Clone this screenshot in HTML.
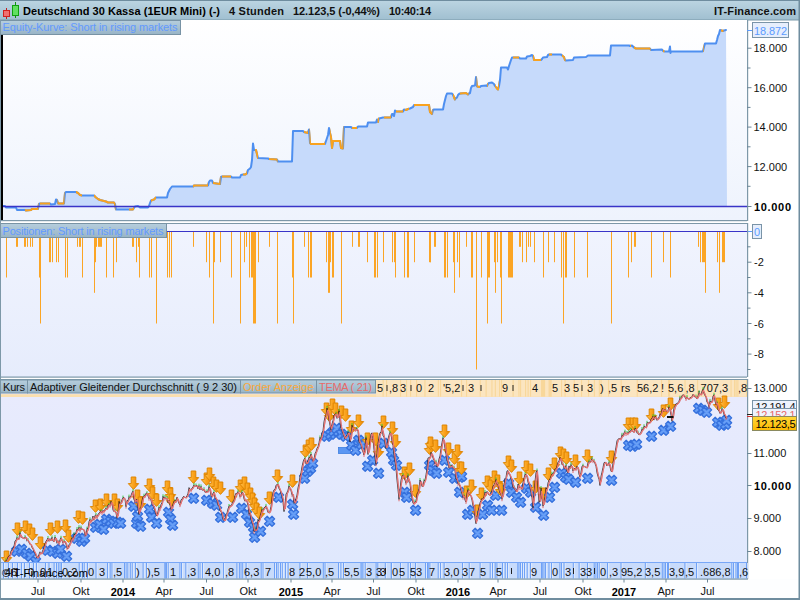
<!DOCTYPE html><html><head><meta charset="utf-8"><title>chart</title><style>html,body{margin:0;padding:0;background:#fff;overflow:hidden}svg{display:block}text{font-family:"Liberation Sans",sans-serif;font-size:11px}</style></head><body>
<svg width="800" height="600" viewBox="0 0 800 600">
<defs>
<linearGradient id="gT" x1="0" y1="0" x2="0" y2="1"><stop offset="0" stop-color="#bcd5e2"/><stop offset="1" stop-color="#a0bfd0"/></linearGradient>
<linearGradient id="gL" x1="0" y1="0" x2="0" y2="1"><stop offset="0" stop-color="#b6cedd"/><stop offset="1" stop-color="#98b4c6"/></linearGradient>
<linearGradient id="gP1" x1="0" y1="0" x2="0" y2="1"><stop offset="0" stop-color="#ffffff"/><stop offset="1" stop-color="#eef3fd"/></linearGradient>
<linearGradient id="gP2" x1="0" y1="0" x2="0" y2="1"><stop offset="0" stop-color="#f1f4fe"/><stop offset="1" stop-color="#e6ecfc"/></linearGradient>
<linearGradient id="gP3" x1="0" y1="0" x2="0" y2="1"><stop offset="0" stop-color="#e9ebfd"/><stop offset="1" stop-color="#dfe8fd"/></linearGradient>
<linearGradient id="gA" x1="0" y1="0" x2="1" y2="0"><stop offset="0" stop-color="#ffc95a"/><stop offset="0.45" stop-color="#fba520"/><stop offset="1" stop-color="#f08a00"/></linearGradient>
<linearGradient id="gY" x1="0" y1="0" x2="0" y2="1"><stop offset="0" stop-color="#ffd83a"/><stop offset="1" stop-color="#fdb800"/></linearGradient>
<g id="ar"><path d="M-2.3,0H2.3V6.6H5.2L0,12.4L-5.2,6.6H-2.3Z" fill="url(#gA)" stroke="#de8400" stroke-width="1" stroke-linejoin="round"/></g>
<g id="xm"><path transform="rotate(45)" d="M-1.9,-5.3H1.9V-1.9H5.3V1.9H1.9V5.3H-1.9V1.9H-5.3V-1.9H-1.9Z" fill="#548ff0" stroke="#3570dc" stroke-width="1.2" stroke-linejoin="round"/><path d="M-2.6,-2.6L2.6,2.6M-2.6,2.6L2.6,-2.6" stroke="#6ea4f8" stroke-width="1.6" stroke-linecap="round" opacity="0.8"/></g>
</defs>
<rect x="0" y="0" width="800" height="600" fill="#ffffff"/>
<rect x="0" y="0" width="800" height="20" fill="url(#gT)"/>
<rect x="0" y="0" width="800" height="1" fill="#6f8d9f"/>
<rect x="0" y="19.5" width="800" height="1" fill="#7b99aa"/>
<line x1="6.5" y1="8" x2="6.5" y2="19" stroke="#c02020" stroke-width="1"/><rect x="3.5" y="10.5" width="6" height="6" fill="#f07070" stroke="#d02020" stroke-width="1"/>
<line x1="15.5" y1="2" x2="15.5" y2="18" stroke="#109010" stroke-width="1"/><rect x="12.5" y="5.5" width="6" height="10" fill="#60e060" stroke="#10a010" stroke-width="1"/>
<text x="23" y="14.6" font-weight="bold" fill="#000" textLength="197">Deutschland 30 Kassa (1EUR Mini) (-)</text>
<text x="229" y="14.6" font-weight="bold" fill="#111" textLength="55">4 Stunden</text>
<text x="293" y="14.6" font-weight="bold" fill="#111" textLength="87">12.123,5 (-0,44%)</text>
<text x="389" y="14.6" font-weight="bold" fill="#111" textLength="42">10:40:14</text>
<text x="714" y="14.6" font-weight="bold" fill="#111" textLength="82">IT-Finance.com</text>
<rect x="0" y="20" width="747" height="200" fill="url(#gP1)"/>
<polygon points="3,206 3,206 5,206 6,207.5 16,207.5 17,210 25,210 26,210.5 31,210 32,209 38,209 39,204 40,203.5 50,203.5 51,204.5 55,204 56,199.5 57,200 58,203.5 64,203.5 65,193 66,192 76,192 78,193 80,195 82,195.5 94,195.5 96,197.5 98,199 100,200 106,201.5 108,202.5 114,202.5 115,204 116,209.5 133,209.5 134,208 135,206.5 138,206 140,207.5 148,207.5 149,206 150,203 151,200.5 154,199.5 156,197.5 167,197.5 168,193 170,189 172,186.5 193,186.5 194,185.5 208,185.5 209,182 210,180.5 212,180.5 213,183 220,184 221,177 222,176.5 231,176.5 232,177.5 240,177.5 241,175 243,174.5 245,174.5 247,173.5 248,170 250,168.5 251,167 252,160 253,143.5 254,150 256,150 257,154 258,158 268,158.5 269,159 277,159.5 278,161.5 292,161.5 293,131 303,131 304,132 308,133 309,129.5 310,143 311,144 325,144 326,141 328,135 329,128 330,133 331,137 332,148 333,141 340,141 341,148 343,148.5 344,127 351,127 352,128 357,128 358,126.5 367,126.5 368,122.5 376,122.5 377,119.5 378,122 379,118.5 383,117.5 391,117.5 392,114 393,114 394,116 395,110.5 396,111.5 403,111.5 404,109.5 406,110 408,109 410,108.5 413,107 414,105 429,105 430,112 432,114 433,110 434,109.5 443,109.5 444,104 445,100 446,96 447,93.5 452,93.5 453,95 455,99.5 456,98 457,97.5 458,95 459,94 460,93.5 466,93 468,94.5 469,93.5 470,93 471,88 472,86 475,85.5 476,77 477,86.5 480,87 481,86 486,85.5 487,86 488,84 489,83 492,82.5 494,84 495,86 497,88.5 498,89.5 499,86 500,80 501,67.5 507,67.5 508,69.5 509,66 510,63 511,60 512,57.5 519,57.5 520,58.5 526,58.5 527,56.5 530,56 532,55 533,56 534,60 541,60 542,59 543,57.5 547,57 548,55 549,54.5 561,54.5 562,55.5 564,57 565,60 566,60.5 573,60 574,57.5 586,57 588,55.5 610,55.5 611,45.5 629,45.5 630,46 632,45.5 634,47.5 636,48.5 650,48.5 651,50 662,49.5 663,51 665,51.5 669,51.5 670,46.5 670.5,53 671,51.5 702,51.5 703,51 704,47 705,43.5 716,43.5 717,40 718,36 719,34 720,30 723,31 724,30.5 726,30 727,206" fill="#c6dafb"/>
<polyline points="3,206 5,206 6,207.5 16,207.5 17,210 25,210 26,210.5 31,210 32,209 38,209 39,204 40,203.5 50,203.5 51,204.5 55,204 56,199.5 57,200 58,203.5 64,203.5 65,193 66,192 76,192 78,193 80,195 82,195.5 94,195.5 96,197.5 98,199 100,200 106,201.5 108,202.5 114,202.5 115,204 116,209.5 133,209.5 134,208 135,206.5 138,206 140,207.5 148,207.5 149,206 150,203 151,200.5 154,199.5 156,197.5 167,197.5 168,193 170,189 172,186.5 193,186.5 194,185.5 208,185.5 209,182 210,180.5 212,180.5 213,183 220,184 221,177 222,176.5 231,176.5 232,177.5 240,177.5 241,175 243,174.5 245,174.5 247,173.5 248,170 250,168.5 251,167 252,160 253,143.5 254,150 256,150 257,154 258,158 268,158.5 269,159 277,159.5 278,161.5 292,161.5 293,131 303,131 304,132 308,133 309,129.5 310,143 311,144 325,144 326,141 328,135 329,128 330,133 331,137 332,148 333,141 340,141 341,148 343,148.5 344,127 351,127 352,128 357,128 358,126.5 367,126.5 368,122.5 376,122.5 377,119.5 378,122 379,118.5 383,117.5 391,117.5 392,114 393,114 394,116 395,110.5 396,111.5 403,111.5 404,109.5 406,110 408,109 410,108.5 413,107 414,105 429,105 430,112 432,114 433,110 434,109.5 443,109.5 444,104 445,100 446,96 447,93.5 452,93.5 453,95 455,99.5 456,98 457,97.5 458,95 459,94 460,93.5 466,93 468,94.5 469,93.5 470,93 471,88 472,86 475,85.5 476,77 477,86.5 480,87 481,86 486,85.5 487,86 488,84 489,83 492,82.5 494,84 495,86 497,88.5 498,89.5 499,86 500,80 501,67.5 507,67.5 508,69.5 509,66 510,63 511,60 512,57.5 519,57.5 520,58.5 526,58.5 527,56.5 530,56 532,55 533,56 534,60 541,60 542,59 543,57.5 547,57 548,55 549,54.5 561,54.5 562,55.5 564,57 565,60 566,60.5 573,60 574,57.5 586,57 588,55.5 610,55.5 611,45.5 629,45.5 630,46 632,45.5 634,47.5 636,48.5 650,48.5 651,50 662,49.5 663,51 665,51.5 669,51.5 670,46.5 670.5,53 671,51.5 702,51.5 703,51 704,47 705,43.5 716,43.5 717,40 718,36 719,34 720,30 723,31 724,30.5 726,30" fill="none" stroke="#4e8ff0" stroke-width="2" stroke-linejoin="round" stroke-linecap="round"/>
<clipPath id="co"><rect x="25" y="20" width="13.5" height="200"/><rect x="40" y="20" width="10" height="200"/><rect x="57.5" y="20" width="7.0" height="200"/><rect x="76" y="20" width="6" height="200"/><rect x="94" y="20" width="21.5" height="200"/><rect x="129" y="20" width="5" height="200"/><rect x="151" y="20" width="5" height="200"/><rect x="193" y="20" width="15" height="200"/><rect x="213" y="20" width="7.5" height="200"/><rect x="222" y="20" width="9" height="200"/><rect x="243" y="20" width="4" height="200"/><rect x="255" y="20" width="3" height="200"/><rect x="269" y="20" width="8.5" height="200"/><rect x="304" y="20" width="4" height="200"/><rect x="309.5" y="20" width="15.5" height="200"/><rect x="330" y="20" width="13.5" height="200"/><rect x="352" y="20" width="5" height="200"/><rect x="377.5" y="20" width="1.5" height="200"/><rect x="384" y="20" width="7" height="200"/><rect x="396" y="20" width="7" height="200"/><rect x="405" y="20" width="4" height="200"/><rect x="414" y="20" width="18.5" height="200"/><rect x="453" y="20" width="2.5" height="200"/><rect x="460" y="20" width="8.5" height="200"/><rect x="476.6" y="20" width="3.3999999999999773" height="200"/><rect x="487" y="20" width="0.8000000000000114" height="200"/><rect x="495" y="20" width="4" height="200"/><rect x="513" y="20" width="6" height="200"/><rect x="533" y="20" width="8" height="200"/><rect x="549" y="20" width="3" height="200"/><rect x="562" y="20" width="3.5" height="200"/><rect x="630" y="20" width="1" height="200"/><rect x="634" y="20" width="16.5" height="200"/><rect x="663" y="20" width="1.5" height="200"/><rect x="703" y="20" width="0.7000000000000455" height="200"/><rect x="721" y="20" width="2.5" height="200"/></clipPath>
<polyline points="3,206 5,206 6,207.5 16,207.5 17,210 25,210 26,210.5 31,210 32,209 38,209 39,204 40,203.5 50,203.5 51,204.5 55,204 56,199.5 57,200 58,203.5 64,203.5 65,193 66,192 76,192 78,193 80,195 82,195.5 94,195.5 96,197.5 98,199 100,200 106,201.5 108,202.5 114,202.5 115,204 116,209.5 133,209.5 134,208 135,206.5 138,206 140,207.5 148,207.5 149,206 150,203 151,200.5 154,199.5 156,197.5 167,197.5 168,193 170,189 172,186.5 193,186.5 194,185.5 208,185.5 209,182 210,180.5 212,180.5 213,183 220,184 221,177 222,176.5 231,176.5 232,177.5 240,177.5 241,175 243,174.5 245,174.5 247,173.5 248,170 250,168.5 251,167 252,160 253,143.5 254,150 256,150 257,154 258,158 268,158.5 269,159 277,159.5 278,161.5 292,161.5 293,131 303,131 304,132 308,133 309,129.5 310,143 311,144 325,144 326,141 328,135 329,128 330,133 331,137 332,148 333,141 340,141 341,148 343,148.5 344,127 351,127 352,128 357,128 358,126.5 367,126.5 368,122.5 376,122.5 377,119.5 378,122 379,118.5 383,117.5 391,117.5 392,114 393,114 394,116 395,110.5 396,111.5 403,111.5 404,109.5 406,110 408,109 410,108.5 413,107 414,105 429,105 430,112 432,114 433,110 434,109.5 443,109.5 444,104 445,100 446,96 447,93.5 452,93.5 453,95 455,99.5 456,98 457,97.5 458,95 459,94 460,93.5 466,93 468,94.5 469,93.5 470,93 471,88 472,86 475,85.5 476,77 477,86.5 480,87 481,86 486,85.5 487,86 488,84 489,83 492,82.5 494,84 495,86 497,88.5 498,89.5 499,86 500,80 501,67.5 507,67.5 508,69.5 509,66 510,63 511,60 512,57.5 519,57.5 520,58.5 526,58.5 527,56.5 530,56 532,55 533,56 534,60 541,60 542,59 543,57.5 547,57 548,55 549,54.5 561,54.5 562,55.5 564,57 565,60 566,60.5 573,60 574,57.5 586,57 588,55.5 610,55.5 611,45.5 629,45.5 630,46 632,45.5 634,47.5 636,48.5 650,48.5 651,50 662,49.5 663,51 665,51.5 669,51.5 670,46.5 670.5,53 671,51.5 702,51.5 703,51 704,47 705,43.5 716,43.5 717,40 718,36 719,34 720,30 723,31 724,30.5 726,30" fill="none" stroke="#f9a21e" stroke-width="2" stroke-linejoin="round" stroke-linecap="round" clip-path="url(#co)"/>
<line x1="0" y1="206.5" x2="747" y2="206.5" stroke="#3a34c8" stroke-width="1.3"/>
<rect x="1" y="34" width="2" height="186" fill="#000"/>
<rect x="0.5" y="20.5" width="180" height="14" fill="url(#gL)" stroke="#7893a5" stroke-width="1"/>
<text x="2.5" y="31" fill="#6299ff" textLength="175">Equity-Kurve: Short in rising markets</text>
<rect x="0" y="220" width="747" height="1.2" fill="#7d98a8"/>
<rect x="747" y="20" width="1.2" height="201" fill="#7d98a8"/>
<line x1="747" y1="186.3" x2="750.5" y2="186.3" stroke="#6d8797" stroke-width="1"/>
<line x1="747" y1="166.6" x2="751.5" y2="166.6" stroke="#6d8797" stroke-width="1"/>
<line x1="747" y1="146.8" x2="750.5" y2="146.8" stroke="#6d8797" stroke-width="1"/>
<line x1="747" y1="127.1" x2="751.5" y2="127.1" stroke="#6d8797" stroke-width="1"/>
<line x1="747" y1="107.4" x2="750.5" y2="107.4" stroke="#6d8797" stroke-width="1"/>
<line x1="747" y1="87.7" x2="751.5" y2="87.7" stroke="#6d8797" stroke-width="1"/>
<line x1="747" y1="68.0" x2="750.5" y2="68.0" stroke="#6d8797" stroke-width="1"/>
<line x1="747" y1="48.2" x2="751.5" y2="48.2" stroke="#6d8797" stroke-width="1"/>
<text x="753.5" y="170.6" fill="#111">12.000</text>
<text x="753.5" y="131.1" fill="#111">14.000</text>
<text x="753.5" y="91.7" fill="#111">16.000</text>
<text x="753.5" y="52.2" fill="#111">18.000</text>
<text x="754" y="210.5" fill="#000" font-weight="bold" font-size="12px" textLength="37">10.000</text>
<line x1="747" y1="206.5" x2="751.5" y2="206.5" stroke="#6d8797" stroke-width="1"/>
<line x1="747" y1="30.5" x2="752" y2="30.5" stroke="#5b9bff" stroke-width="1"/>
<rect x="752.5" y="22.5" width="36" height="15" fill="#e6eefc" stroke="#7a94a8" stroke-width="1"/>
<text x="754" y="34.5" fill="#5b9bff" textLength="33">18.872</text>
<rect x="0" y="223" width="747" height="154" fill="url(#gP2)"/>
<rect x="0" y="223" width="747" height="1" fill="#7d98a8"/>
<rect x="0" y="376.5" width="747" height="1.2" fill="#7d98a8"/>
<rect x="6" y="231.5" width="1" height="46.0" fill="#fba525"/>
<rect x="16" y="231.5" width="2" height="15.3" fill="#fba525"/>
<rect x="24" y="231.5" width="2" height="15.3" fill="#fba525"/>
<rect x="27" y="231.5" width="1" height="15.3" fill="#fba525"/>
<rect x="30" y="231.5" width="1" height="15.3" fill="#fba525"/>
<rect x="32" y="231.5" width="1" height="15.3" fill="#fba525"/>
<rect x="39" y="231.5" width="1" height="46.0" fill="#fba525"/>
<rect x="40" y="231.5" width="1" height="92.0" fill="#fba525"/>
<rect x="49" y="231.5" width="2" height="30.7" fill="#fba525"/>
<rect x="52" y="231.5" width="1" height="30.7" fill="#fba525"/>
<rect x="56" y="231.5" width="1" height="30.7" fill="#fba525"/>
<rect x="58" y="231.5" width="1" height="30.7" fill="#fba525"/>
<rect x="65" y="231.5" width="1" height="46.0" fill="#fba525"/>
<rect x="67" y="231.5" width="1" height="46.0" fill="#fba525"/>
<rect x="77" y="231.5" width="1" height="15.3" fill="#fba525"/>
<rect x="79" y="231.5" width="2" height="15.3" fill="#fba525"/>
<rect x="82" y="231.5" width="1" height="46.0" fill="#fba525"/>
<rect x="94" y="231.5" width="1" height="61.3" fill="#fba525"/>
<rect x="95" y="231.5" width="1" height="30.7" fill="#fba525"/>
<rect x="96" y="231.5" width="1" height="15.3" fill="#fba525"/>
<rect x="98" y="231.5" width="4" height="15.3" fill="#fba525"/>
<rect x="106" y="231.5" width="1" height="46.0" fill="#fba525"/>
<rect x="113" y="231.5" width="1" height="46.0" fill="#fba525"/>
<rect x="116" y="231.5" width="1" height="30.7" fill="#fba525"/>
<rect x="132" y="231.5" width="2" height="15.3" fill="#fba525"/>
<rect x="136" y="231.5" width="1" height="30.7" fill="#fba525"/>
<rect x="138" y="231.5" width="1" height="15.3" fill="#fba525"/>
<rect x="139" y="231.5" width="1" height="46.0" fill="#fba525"/>
<rect x="149" y="231.5" width="1" height="46.0" fill="#fba525"/>
<rect x="151" y="231.5" width="1" height="46.0" fill="#fba525"/>
<rect x="156" y="231.5" width="1" height="92.0" fill="#fba525"/>
<rect x="167" y="231.5" width="1" height="46.0" fill="#fba525"/>
<rect x="169" y="231.5" width="1" height="46.0" fill="#fba525"/>
<rect x="171" y="231.5" width="1" height="46.0" fill="#fba525"/>
<rect x="193" y="231.5" width="1" height="15.3" fill="#fba525"/>
<rect x="206" y="231.5" width="1" height="30.7" fill="#fba525"/>
<rect x="209" y="231.5" width="1" height="46.0" fill="#fba525"/>
<rect x="213" y="231.5" width="1" height="92.0" fill="#fba525"/>
<rect x="214" y="231.5" width="1" height="30.7" fill="#fba525"/>
<rect x="220" y="231.5" width="1" height="30.7" fill="#fba525"/>
<rect x="231" y="231.5" width="1" height="46.0" fill="#fba525"/>
<rect x="240" y="231.5" width="1" height="92.0" fill="#fba525"/>
<rect x="244" y="231.5" width="1" height="30.7" fill="#fba525"/>
<rect x="246" y="231.5" width="1" height="15.3" fill="#fba525"/>
<rect x="249" y="231.5" width="1" height="46.0" fill="#fba525"/>
<rect x="251" y="231.5" width="2" height="46.0" fill="#fba525"/>
<rect x="253" y="231.5" width="3" height="92.0" fill="#fba525"/>
<rect x="258" y="231.5" width="1" height="30.7" fill="#fba525"/>
<rect x="269" y="231.5" width="1" height="15.3" fill="#fba525"/>
<rect x="277" y="231.5" width="1" height="92.0" fill="#fba525"/>
<rect x="292" y="231.5" width="1" height="46.0" fill="#fba525"/>
<rect x="293" y="231.5" width="1" height="92.0" fill="#fba525"/>
<rect x="304" y="231.5" width="1" height="15.3" fill="#fba525"/>
<rect x="308" y="231.5" width="1" height="46.0" fill="#fba525"/>
<rect x="310" y="231.5" width="2" height="46.0" fill="#fba525"/>
<rect x="326" y="231.5" width="1" height="30.7" fill="#fba525"/>
<rect x="328" y="231.5" width="2" height="61.3" fill="#fba525"/>
<rect x="330" y="231.5" width="1" height="30.7" fill="#fba525"/>
<rect x="332" y="231.5" width="2" height="46.0" fill="#fba525"/>
<rect x="341" y="231.5" width="1" height="92.0" fill="#fba525"/>
<rect x="352" y="231.5" width="1" height="15.3" fill="#fba525"/>
<rect x="358" y="231.5" width="2" height="15.3" fill="#fba525"/>
<rect x="367" y="231.5" width="1" height="30.7" fill="#fba525"/>
<rect x="374" y="231.5" width="2" height="46.0" fill="#fba525"/>
<rect x="377" y="231.5" width="1" height="46.0" fill="#fba525"/>
<rect x="383" y="231.5" width="1" height="30.7" fill="#fba525"/>
<rect x="392" y="231.5" width="1" height="30.7" fill="#fba525"/>
<rect x="394" y="231.5" width="1" height="30.7" fill="#fba525"/>
<rect x="395" y="231.5" width="1" height="46.0" fill="#fba525"/>
<rect x="404" y="231.5" width="1" height="46.0" fill="#fba525"/>
<rect x="407" y="231.5" width="2" height="46.0" fill="#fba525"/>
<rect x="414" y="231.5" width="1" height="30.7" fill="#fba525"/>
<rect x="429" y="231.5" width="2" height="30.7" fill="#fba525"/>
<rect x="434" y="231.5" width="2" height="15.3" fill="#fba525"/>
<rect x="430" y="231.5" width="1" height="30.7" fill="#fba525"/>
<rect x="444" y="231.5" width="2" height="46.0" fill="#fba525"/>
<rect x="447" y="231.5" width="1" height="46.0" fill="#fba525"/>
<rect x="453" y="231.5" width="1" height="30.7" fill="#fba525"/>
<rect x="454" y="231.5" width="1" height="61.3" fill="#fba525"/>
<rect x="457" y="231.5" width="1" height="30.7" fill="#fba525"/>
<rect x="459" y="231.5" width="1" height="46.0" fill="#fba525"/>
<rect x="466" y="231.5" width="1" height="15.3" fill="#fba525"/>
<rect x="471" y="231.5" width="2" height="46.0" fill="#fba525"/>
<rect x="476" y="231.5" width="1" height="138.0" fill="#fba525"/>
<rect x="481" y="231.5" width="1" height="46.0" fill="#fba525"/>
<rect x="487" y="231.5" width="1" height="92.0" fill="#fba525"/>
<rect x="488" y="231.5" width="2" height="46.0" fill="#fba525"/>
<rect x="494" y="231.5" width="1" height="30.7" fill="#fba525"/>
<rect x="495" y="231.5" width="1" height="61.3" fill="#fba525"/>
<rect x="497" y="231.5" width="1" height="30.7" fill="#fba525"/>
<rect x="500" y="231.5" width="1" height="46.0" fill="#fba525"/>
<rect x="501" y="231.5" width="1" height="92.0" fill="#fba525"/>
<rect x="508" y="231.5" width="5" height="46.0" fill="#fba525"/>
<rect x="519" y="231.5" width="2" height="15.3" fill="#fba525"/>
<rect x="522" y="231.5" width="1" height="30.7" fill="#fba525"/>
<rect x="526" y="231.5" width="1" height="30.7" fill="#fba525"/>
<rect x="528" y="231.5" width="1" height="15.3" fill="#fba525"/>
<rect x="530" y="231.5" width="1" height="15.3" fill="#fba525"/>
<rect x="534" y="231.5" width="1" height="30.7" fill="#fba525"/>
<rect x="543" y="231.5" width="1" height="46.0" fill="#fba525"/>
<rect x="548" y="231.5" width="1" height="30.7" fill="#fba525"/>
<rect x="554" y="231.5" width="1" height="30.7" fill="#fba525"/>
<rect x="561" y="231.5" width="1" height="46.0" fill="#fba525"/>
<rect x="563" y="231.5" width="1" height="92.0" fill="#fba525"/>
<rect x="565" y="231.5" width="2" height="46.0" fill="#fba525"/>
<rect x="574" y="231.5" width="1" height="46.0" fill="#fba525"/>
<rect x="587" y="231.5" width="1" height="46.0" fill="#fba525"/>
<rect x="611" y="231.5" width="1" height="92.0" fill="#fba525"/>
<rect x="628" y="231.5" width="1" height="46.0" fill="#fba525"/>
<rect x="631" y="231.5" width="1" height="30.7" fill="#fba525"/>
<rect x="634" y="231.5" width="2" height="15.3" fill="#fba525"/>
<rect x="651" y="231.5" width="1" height="46.0" fill="#fba525"/>
<rect x="663" y="231.5" width="1" height="30.7" fill="#fba525"/>
<rect x="670" y="231.5" width="1" height="46.0" fill="#fba525"/>
<rect x="698" y="231.5" width="1" height="15.3" fill="#fba525"/>
<rect x="700" y="231.5" width="1" height="30.7" fill="#fba525"/>
<rect x="702" y="231.5" width="3" height="30.7" fill="#fba525"/>
<rect x="705" y="231.5" width="1" height="61.3" fill="#fba525"/>
<rect x="717" y="231.5" width="1" height="30.7" fill="#fba525"/>
<rect x="719" y="231.5" width="1" height="61.3" fill="#fba525"/>
<rect x="722" y="231.5" width="3" height="30.7" fill="#fba525"/>
<line x1="0" y1="231.5" x2="747" y2="231.5" stroke="#3a34c8" stroke-width="1.2"/>
<line x1="747" y1="231.5" x2="752" y2="231.5" stroke="#5b9bff" stroke-width="1"/>
<rect x="0.5" y="223.5" width="166" height="14" fill="url(#gL)" stroke="#7893a5" stroke-width="1"/>
<text x="2.5" y="235" fill="#6299ff" textLength="161">Positionen: Short in rising markets</text>
<rect x="747" y="223" width="1.2" height="154" fill="#7d98a8"/>
<line x1="747" y1="246.8" x2="750.5" y2="246.8" stroke="#6d8797" stroke-width="1"/>
<line x1="747" y1="262.2" x2="751.5" y2="262.2" stroke="#6d8797" stroke-width="1"/>
<line x1="747" y1="277.5" x2="750.5" y2="277.5" stroke="#6d8797" stroke-width="1"/>
<line x1="747" y1="292.8" x2="751.5" y2="292.8" stroke="#6d8797" stroke-width="1"/>
<line x1="747" y1="308.1" x2="750.5" y2="308.1" stroke="#6d8797" stroke-width="1"/>
<line x1="747" y1="323.5" x2="751.5" y2="323.5" stroke="#6d8797" stroke-width="1"/>
<line x1="747" y1="338.8" x2="750.5" y2="338.8" stroke="#6d8797" stroke-width="1"/>
<line x1="747" y1="354.1" x2="751.5" y2="354.1" stroke="#6d8797" stroke-width="1"/>
<line x1="747" y1="369.5" x2="750.5" y2="369.5" stroke="#6d8797" stroke-width="1"/>
<text x="754" y="266.2" fill="#111">-2</text>
<text x="754" y="296.8" fill="#111">-4</text>
<text x="754" y="327.5" fill="#111">-6</text>
<text x="754" y="358.1" fill="#111">-8</text>
<rect x="752.5" y="224.5" width="9" height="14" fill="#e6eefc" stroke="#7a94a8" stroke-width="1"/>
<text x="754" y="236" fill="#5b9bff">0</text>
<rect x="0" y="379" width="747" height="200" fill="url(#gP3)"/>
<rect x="0" y="379" width="747" height="1" fill="#7d98a8"/>
<rect x="747" y="379" width="1.2" height="200" fill="#7d98a8"/>
<rect x="0" y="394.2" width="747" height="2.8" fill="#fbdfae"/>
<rect x="376" y="380" width="371" height="16.6" fill="#fbe5c0"/>
<rect x="382.6" y="380" width="1.1" height="16.6" fill="#f7d391" opacity="0.8"/>
<rect x="386.0" y="380" width="1.1" height="16.6" fill="#f7d391" opacity="0.8"/>
<rect x="400.0" y="380" width="1.1" height="16.6" fill="#f7d391" opacity="0.8"/>
<rect x="406.0" y="380" width="1.1" height="16.6" fill="#f7d391" opacity="0.8"/>
<rect x="410.0" y="380" width="1.1" height="16.6" fill="#f7d391" opacity="0.8"/>
<rect x="416.0" y="380" width="1.1" height="16.6" fill="#f7d391" opacity="0.8"/>
<rect x="424.4" y="380" width="1.1" height="16.6" fill="#f7d391" opacity="0.8"/>
<rect x="437.8" y="380" width="1.1" height="16.6" fill="#f7d391" opacity="0.8"/>
<rect x="440.0" y="380" width="1.1" height="16.6" fill="#f7d391" opacity="0.8"/>
<rect x="461.0" y="380" width="1.1" height="16.6" fill="#f7d391" opacity="0.8"/>
<rect x="466.0" y="380" width="1.1" height="16.6" fill="#f7d391" opacity="0.8"/>
<rect x="479.7" y="380" width="1.1" height="16.6" fill="#f7d391" opacity="0.8"/>
<rect x="485.6" y="380" width="1.1" height="16.6" fill="#f7d391" opacity="0.8"/>
<rect x="491.4" y="380" width="1.1" height="16.6" fill="#f7d391" opacity="0.8"/>
<rect x="494.8" y="380" width="1.1" height="16.6" fill="#f7d391" opacity="0.8"/>
<rect x="499.0" y="380" width="1.1" height="16.6" fill="#f7d391" opacity="0.8"/>
<rect x="501.0" y="380" width="1.1" height="16.6" fill="#f7d391" opacity="0.8"/>
<rect x="512.6" y="380" width="1.1" height="16.6" fill="#f7d391" opacity="0.8"/>
<rect x="518.4" y="380" width="1.1" height="16.6" fill="#f7d391" opacity="0.8"/>
<rect x="520.0" y="380" width="1.1" height="16.6" fill="#f7d391" opacity="0.8"/>
<rect x="525.0" y="380" width="1.1" height="16.6" fill="#f7d391" opacity="0.8"/>
<rect x="527.6" y="380" width="1.1" height="16.6" fill="#f7d391" opacity="0.8"/>
<rect x="530.0" y="380" width="1.1" height="16.6" fill="#f7d391" opacity="0.8"/>
<rect x="541.0" y="380" width="1.1" height="16.6" fill="#f7d391" opacity="0.8"/>
<rect x="542.0" y="380" width="1.1" height="16.6" fill="#f7d391" opacity="0.8"/>
<rect x="543.0" y="380" width="1.1" height="16.6" fill="#f7d391" opacity="0.8"/>
<rect x="544.0" y="380" width="1.1" height="16.6" fill="#f7d391" opacity="0.8"/>
<rect x="548.6" y="380" width="1.1" height="16.6" fill="#f7d391" opacity="0.8"/>
<rect x="549.6" y="380" width="1.1" height="16.6" fill="#f7d391" opacity="0.8"/>
<rect x="550.6" y="380" width="1.1" height="16.6" fill="#f7d391" opacity="0.8"/>
<rect x="561.0" y="380" width="1.1" height="16.6" fill="#f7d391" opacity="0.8"/>
<rect x="564.5" y="380" width="1.1" height="16.6" fill="#f7d391" opacity="0.8"/>
<rect x="573.7" y="380" width="1.1" height="16.6" fill="#f7d391" opacity="0.8"/>
<rect x="581.0" y="380" width="1.1" height="16.6" fill="#f7d391" opacity="0.8"/>
<rect x="588.0" y="380" width="1.1" height="16.6" fill="#f7d391" opacity="0.8"/>
<rect x="593.8" y="380" width="1.1" height="16.6" fill="#f7d391" opacity="0.8"/>
<rect x="598.8" y="380" width="1.1" height="16.6" fill="#f7d391" opacity="0.8"/>
<rect x="600.5" y="380" width="1.1" height="16.6" fill="#f7d391" opacity="0.8"/>
<rect x="608.0" y="380" width="1.1" height="16.6" fill="#f7d391" opacity="0.8"/>
<rect x="620.6" y="380" width="1.1" height="16.6" fill="#f7d391" opacity="0.8"/>
<rect x="636.7" y="380" width="1.1" height="16.6" fill="#f7d391" opacity="0.8"/>
<rect x="661.0" y="380" width="1.1" height="16.6" fill="#f7d391" opacity="0.8"/>
<rect x="668.0" y="380" width="1.1" height="16.6" fill="#f7d391" opacity="0.8"/>
<rect x="669.0" y="380" width="1.1" height="16.6" fill="#f7d391" opacity="0.8"/>
<rect x="684.5" y="380" width="1.1" height="16.6" fill="#f7d391" opacity="0.8"/>
<rect x="697.0" y="380" width="1.1" height="16.6" fill="#f7d391" opacity="0.8"/>
<rect x="730.5" y="380" width="1.1" height="16.6" fill="#f7d391" opacity="0.8"/>
<rect x="734.0" y="380" width="1.1" height="16.6" fill="#f7d391" opacity="0.8"/>
<rect x="735.6" y="380" width="1.1" height="16.6" fill="#f7d391" opacity="0.8"/>
<rect x="737.3" y="380" width="1.1" height="16.6" fill="#f7d391" opacity="0.8"/>
<rect x="746.0" y="380" width="1.1" height="16.6" fill="#f7d391" opacity="0.8"/>
<text x="377" y="392" fill="#111">5</text>
<rect x="386.5" y="385" width="1" height="6" fill="#222"/>
<text x="389" y="392" fill="#111">,8</text>
<text x="400" y="392" fill="#111">3</text>
<rect x="410.5" y="385" width="1" height="6" fill="#222"/>
<text x="416" y="392" fill="#111">0</text>
<text x="428" y="392" fill="#111">2</text>
<text x="443" y="392" fill="#111">'5,2</text>
<rect x="462.5" y="385" width="1" height="6" fill="#222"/>
<text x="468" y="392" fill="#111">3</text>
<rect x="480.5" y="385" width="1" height="6" fill="#222"/>
<text x="502" y="392" fill="#111">9</text>
<rect x="512.5" y="385" width="1" height="6" fill="#222"/>
<text x="532" y="392" fill="#111">4</text>
<text x="552" y="392" fill="#111">5</text>
<text x="564" y="392" fill="#111">3</text>
<text x="573" y="392" fill="#111">5</text>
<rect x="581.5" y="385" width="1" height="6" fill="#222"/>
<text x="587" y="392" fill="#111">3</text>
<text x="600" y="392" fill="#111">)</text>
<text x="608" y="392" fill="#111">,5</text>
<text x="621" y="392" fill="#111">rs</text>
<text x="637" y="392" fill="#111">56,2</text>
<text x="661" y="392" fill="#111">!</text>
<text x="668" y="392" fill="#111">5,6</text>
<text x="685.5" y="392" fill="#111">,8</text>
<text x="697.5" y="392" fill="#111">.707,3</text>
<text x="738" y="392" fill="#111">,8</text>
<rect x="338.5" y="447.5" width="12" height="6" fill="#5b97f3" stroke="#3f7fe0" stroke-width="0.8"/>
<use href="#ar" x="6.5" y="551"/>
<use href="#xm" x="16.6" y="551.3"/>
<use href="#ar" x="17.5" y="523"/>
<use href="#xm" x="21.6" y="549.3"/>
<use href="#ar" x="25.5" y="521"/>
<use href="#xm" x="26.6" y="553.3"/>
<use href="#ar" x="29.5" y="524"/>
<use href="#xm" x="30.6" y="556.3"/>
<use href="#ar" x="32.5" y="528"/>
<use href="#xm" x="35.6" y="561.3"/>
<use href="#ar" x="40.5" y="537"/>
<use href="#xm" x="47.6" y="550.3"/>
<use href="#ar" x="50.5" y="523"/>
<use href="#xm" x="52.6" y="551.3"/>
<use href="#xm" x="57.6" y="553.3"/>
<use href="#ar" x="57.5" y="521"/>
<use href="#xm" x="60.6" y="549.3"/>
<use href="#ar" x="65.5" y="520"/>
<use href="#xm" x="66.6" y="556.3"/>
<use href="#ar" x="68.5" y="530"/>
<use href="#xm" x="76.6" y="538.3"/>
<use href="#ar" x="78.5" y="511"/>
<use href="#xm" x="81.6" y="541.3"/>
<use href="#ar" x="82.5" y="512"/>
<use href="#xm" x="84.6" y="538.3"/>
<use href="#xm" x="95.6" y="527.3"/>
<use href="#ar" x="95.5" y="500"/>
<use href="#xm" x="99.6" y="524.3"/>
<use href="#ar" x="100.5" y="499"/>
<use href="#xm" x="103.6" y="529.3"/>
<use href="#xm" x="106.6" y="519.3"/>
<use href="#ar" x="106.5" y="494"/>
<use href="#xm" x="110.6" y="521.3"/>
<use href="#xm" x="113.6" y="523.3"/>
<use href="#ar" x="114.5" y="494"/>
<use href="#xm" x="117.6" y="522.3"/>
<use href="#ar" x="117.5" y="499"/>
<use href="#xm" x="120.6" y="523.3"/>
<use href="#xm" x="133.6" y="506.3"/>
<use href="#ar" x="133.5" y="477"/>
<use href="#xm" x="136.6" y="523.3"/>
<use href="#xm" x="137.6" y="516.3"/>
<use href="#ar" x="137.5" y="490"/>
<use href="#xm" x="140.6" y="526.3"/>
<use href="#ar" x="140.5" y="497"/>
<use href="#xm" x="149.6" y="509.3"/>
<use href="#ar" x="149.5" y="479"/>
<use href="#xm" x="151.6" y="517.3"/>
<use href="#ar" x="152.5" y="487"/>
<use href="#xm" x="156.6" y="523.3"/>
<use href="#ar" x="156.5" y="494"/>
<use href="#ar" x="167.5" y="481"/>
<use href="#xm" x="168.6" y="512.3"/>
<use href="#xm" x="170.6" y="519.3"/>
<use href="#ar" x="170.5" y="488"/>
<use href="#ar" x="171.5" y="494"/>
<use href="#xm" x="172.6" y="525.3"/>
<use href="#xm" x="193.6" y="498.3"/>
<use href="#ar" x="193.5" y="471"/>
<use href="#xm" x="206.6" y="500.3"/>
<use href="#ar" x="206.5" y="473"/>
<use href="#ar" x="209.5" y="468"/>
<use href="#xm" x="212.6" y="503.3"/>
<use href="#ar" x="213.5" y="477"/>
<use href="#xm" x="216.6" y="505.3"/>
<use href="#ar" x="216.5" y="480"/>
<use href="#xm" x="220.6" y="517.3"/>
<use href="#ar" x="220.5" y="482"/>
<use href="#ar" x="231.5" y="490"/>
<use href="#xm" x="232.6" y="517.3"/>
<use href="#ar" x="240.5" y="480"/>
<use href="#xm" x="241.6" y="508.3"/>
<use href="#ar" x="244.5" y="477"/>
<use href="#xm" x="246.6" y="514.3"/>
<use href="#ar" x="247.5" y="483"/>
<use href="#xm" x="249.6" y="522.3"/>
<use href="#ar" x="250.5" y="488"/>
<use href="#ar" x="252.5" y="493"/>
<use href="#xm" x="253.6" y="527.3"/>
<use href="#xm" x="254.6" y="537.3"/>
<use href="#ar" x="254.5" y="498"/>
<use href="#ar" x="256.5" y="503"/>
<use href="#ar" x="259.5" y="507"/>
<use href="#xm" x="260.6" y="531.3"/>
<use href="#xm" x="269.6" y="521.3"/>
<use href="#ar" x="269.5" y="492"/>
<use href="#ar" x="277.5" y="470"/>
<use href="#xm" x="278.6" y="497.3"/>
<use href="#xm" x="292.6" y="504.3"/>
<use href="#ar" x="292.5" y="475"/>
<use href="#xm" x="293.6" y="514.3"/>
<use href="#xm" x="304.6" y="478.3"/>
<use href="#ar" x="305.5" y="445"/>
<use href="#xm" x="307.6" y="471.3"/>
<use href="#ar" x="308.5" y="440"/>
<use href="#xm" x="310.6" y="468.3"/>
<use href="#ar" x="311.5" y="438"/>
<use href="#xm" x="312.6" y="463.3"/>
<use href="#xm" x="326.6" y="436.3"/>
<use href="#ar" x="326.5" y="403"/>
<use href="#ar" x="329.5" y="409"/>
<use href="#xm" x="330.6" y="434.3"/>
<use href="#ar" x="332.5" y="399"/>
<use href="#xm" x="333.6" y="431.3"/>
<use href="#ar" x="335.5" y="403"/>
<use href="#xm" x="336.6" y="428.3"/>
<use href="#xm" x="341.6" y="434.3"/>
<use href="#ar" x="341.5" y="406"/>
<use href="#xm" x="345.6" y="436.3"/>
<use href="#ar" x="345.5" y="409"/>
<use href="#xm" x="351.6" y="445.3"/>
<use href="#ar" x="351.5" y="421"/>
<use href="#xm" x="355.6" y="450.3"/>
<use href="#xm" x="358.6" y="440.3"/>
<use href="#ar" x="358.5" y="415"/>
<use href="#xm" x="361.6" y="444.3"/>
<use href="#xm" x="367.6" y="466.3"/>
<use href="#ar" x="367.5" y="433"/>
<use href="#xm" x="372.6" y="460.3"/>
<use href="#ar" x="375.5" y="433"/>
<use href="#xm" x="378.6" y="473.3"/>
<use href="#ar" x="378.5" y="445"/>
<use href="#xm" x="383.6" y="443.3"/>
<use href="#ar" x="383.5" y="416"/>
<use href="#xm" x="391.6" y="452.3"/>
<use href="#ar" x="392.5" y="422"/>
<use href="#xm" x="393.6" y="460.3"/>
<use href="#ar" x="395.5" y="435"/>
<use href="#xm" x="396.6" y="465.3"/>
<use href="#xm" x="404.6" y="492.3"/>
<use href="#ar" x="404.5" y="467"/>
<use href="#xm" x="406.6" y="497.3"/>
<use href="#ar" x="409.5" y="463"/>
<use href="#xm" x="415.6" y="510.3"/>
<use href="#ar" x="415.5" y="485"/>
<use href="#xm" x="429.6" y="465.3"/>
<use href="#ar" x="429.5" y="442"/>
<use href="#ar" x="430.5" y="437"/>
<use href="#xm" x="432.6" y="470.3"/>
<use href="#ar" x="435.5" y="440"/>
<use href="#xm" x="436.6" y="473.3"/>
<use href="#xm" x="444.6" y="460.3"/>
<use href="#ar" x="444.5" y="425"/>
<use href="#xm" x="448.6" y="472.3"/>
<use href="#ar" x="448.5" y="443"/>
<use href="#xm" x="454.6" y="478.3"/>
<use href="#ar" x="454.5" y="452"/>
<use href="#ar" x="457.5" y="445"/>
<use href="#xm" x="459.6" y="477.3"/>
<use href="#xm" x="459.6" y="492.3"/>
<use href="#ar" x="459.5" y="462"/>
<use href="#xm" x="461.6" y="476.3"/>
<use href="#ar" x="461.5" y="462"/>
<use href="#ar" x="466.5" y="486"/>
<use href="#xm" x="467.6" y="514.3"/>
<use href="#ar" x="471.5" y="480"/>
<use href="#xm" x="472.6" y="510.3"/>
<use href="#xm" x="477.6" y="533.3"/>
<use href="#ar" x="477.5" y="505"/>
<use href="#ar" x="481.5" y="488"/>
<use href="#xm" x="482.6" y="514.3"/>
<use href="#xm" x="487.6" y="505.3"/>
<use href="#ar" x="487.5" y="476"/>
<use href="#ar" x="490.5" y="480"/>
<use href="#xm" x="491.6" y="510.3"/>
<use href="#ar" x="494.5" y="471"/>
<use href="#xm" x="495.6" y="495.3"/>
<use href="#ar" x="497.5" y="475"/>
<use href="#ar" x="500.5" y="483"/>
<use href="#xm" x="501.6" y="510.3"/>
<use href="#xm" x="508.6" y="483.3"/>
<use href="#ar" x="508.5" y="456"/>
<use href="#xm" x="511.6" y="492.3"/>
<use href="#ar" x="511.5" y="460"/>
<use href="#xm" x="516.6" y="497.3"/>
<use href="#ar" x="519.5" y="472"/>
<use href="#xm" x="520.6" y="502.3"/>
<use href="#xm" x="526.6" y="488.3"/>
<use href="#ar" x="526.5" y="461"/>
<use href="#xm" x="530.6" y="492.3"/>
<use href="#ar" x="530.5" y="464"/>
<use href="#xm" x="535.6" y="507.3"/>
<use href="#ar" x="535.5" y="481"/>
<use href="#xm" x="543.6" y="515.3"/>
<use href="#ar" x="543.5" y="488"/>
<use href="#ar" x="548.5" y="468"/>
<use href="#xm" x="549.6" y="497.3"/>
<use href="#xm" x="554.6" y="487.3"/>
<use href="#ar" x="554.5" y="458"/>
<use href="#ar" x="560.5" y="447"/>
<use href="#xm" x="561.6" y="473.3"/>
<use href="#ar" x="563.5" y="449"/>
<use href="#xm" x="565.6" y="477.3"/>
<use href="#ar" x="566.5" y="452"/>
<use href="#xm" x="568.6" y="479.3"/>
<use href="#xm" x="575.6" y="482.3"/>
<use href="#ar" x="575.5" y="455"/>
<use href="#xm" x="587.6" y="478.3"/>
<use href="#ar" x="587.5" y="450"/>
<use href="#xm" x="611.6" y="480.3"/>
<use href="#ar" x="611.5" y="451"/>
<use href="#xm" x="628.6" y="445.3"/>
<use href="#ar" x="628.5" y="418"/>
<use href="#xm" x="632.6" y="446.3"/>
<use href="#ar" x="632.5" y="418"/>
<use href="#ar" x="635.5" y="418"/>
<use href="#xm" x="636.6" y="444.3"/>
<use href="#xm" x="651.6" y="436.3"/>
<use href="#ar" x="651.5" y="409"/>
<use href="#xm" x="663.6" y="430.3"/>
<use href="#ar" x="663.5" y="405"/>
<use href="#xm" x="670.6" y="426.3"/>
<use href="#ar" x="670.5" y="398"/>
<use href="#xm" x="698.6" y="408.3"/>
<use href="#xm" x="702.6" y="410.3"/>
<use href="#xm" x="706.6" y="412.3"/>
<use href="#xm" x="717.6" y="422.3"/>
<use href="#ar" x="718.5" y="398"/>
<use href="#xm" x="721.6" y="425.3"/>
<use href="#ar" x="724.5" y="396"/>
<use href="#xm" x="725.6" y="424.3"/>
<use href="#xm" x="726.6" y="420.3"/>
<g><line x1="6.0" y1="558.3" x2="6.0" y2="560.6" stroke="#2ec82e" stroke-width="0.9"/><line x1="17.0" y1="535.5" x2="17.0" y2="537.8" stroke="#2ec82e" stroke-width="0.9"/><line x1="20.0" y1="530.8" x2="20.0" y2="533.1" stroke="#2ec82e" stroke-width="0.9"/><line x1="25.0" y1="535.1" x2="25.0" y2="537.4" stroke="#2ec82e" stroke-width="0.9"/><line x1="28.0" y1="538.2" x2="28.0" y2="540.5" stroke="#2ec82e" stroke-width="0.9"/><line x1="48.0" y1="536.0" x2="48.0" y2="538.3" stroke="#2ec82e" stroke-width="0.9"/><line x1="52.0" y1="535.4" x2="52.0" y2="537.7" stroke="#2ec82e" stroke-width="0.9"/><line x1="55.0" y1="535.0" x2="55.0" y2="537.3" stroke="#2ec82e" stroke-width="0.9"/><line x1="59.0" y1="543.0" x2="59.0" y2="545.3" stroke="#e05a5a" stroke-width="0.9"/><line x1="61.0" y1="535.8" x2="61.0" y2="538.1" stroke="#2ec82e" stroke-width="0.9"/><line x1="63.0" y1="542.5" x2="63.0" y2="544.8" stroke="#e05a5a" stroke-width="0.9"/><line x1="64.0" y1="539.2" x2="64.0" y2="541.5" stroke="#2ec82e" stroke-width="0.9"/><line x1="67.0" y1="548.0" x2="67.0" y2="550.3" stroke="#e05a5a" stroke-width="0.9"/><line x1="73.0" y1="539.4" x2="73.0" y2="541.7" stroke="#e05a5a" stroke-width="0.9"/><line x1="74.0" y1="532.4" x2="74.0" y2="534.7" stroke="#2ec82e" stroke-width="0.9"/><line x1="75.0" y1="534.4" x2="75.0" y2="536.7" stroke="#e05a5a" stroke-width="0.9"/><line x1="77.0" y1="527.1" x2="77.0" y2="529.4" stroke="#2ec82e" stroke-width="0.9"/><line x1="79.0" y1="525.2" x2="79.0" y2="527.5" stroke="#2ec82e" stroke-width="0.9"/><line x1="80.0" y1="530.0" x2="80.0" y2="532.3" stroke="#e05a5a" stroke-width="0.9"/><line x1="81.0" y1="525.6" x2="81.0" y2="527.9" stroke="#2ec82e" stroke-width="0.9"/><line x1="85.0" y1="534.6" x2="85.0" y2="536.9" stroke="#e05a5a" stroke-width="0.9"/><line x1="87.0" y1="526.7" x2="87.0" y2="529.0" stroke="#2ec82e" stroke-width="0.9"/><line x1="88.0" y1="528.4" x2="88.0" y2="530.7" stroke="#e05a5a" stroke-width="0.9"/><line x1="90.0" y1="517.4" x2="90.0" y2="519.7" stroke="#2ec82e" stroke-width="0.9"/><line x1="91.0" y1="521.1" x2="91.0" y2="523.4" stroke="#e05a5a" stroke-width="0.9"/><line x1="96.0" y1="513.0" x2="96.0" y2="515.3" stroke="#2ec82e" stroke-width="0.9"/><line x1="97.0" y1="517.0" x2="97.0" y2="519.3" stroke="#e05a5a" stroke-width="0.9"/><line x1="101.0" y1="508.9" x2="101.0" y2="511.2" stroke="#2ec82e" stroke-width="0.9"/><line x1="102.0" y1="512.6" x2="102.0" y2="514.9" stroke="#e05a5a" stroke-width="0.9"/><line x1="104.0" y1="511.1" x2="104.0" y2="513.4" stroke="#e05a5a" stroke-width="0.9"/><line x1="106.0" y1="506.1" x2="106.0" y2="508.4" stroke="#2ec82e" stroke-width="0.9"/><line x1="109.0" y1="502.8" x2="109.0" y2="505.1" stroke="#2ec82e" stroke-width="0.9"/><line x1="110.0" y1="505.4" x2="110.0" y2="507.7" stroke="#e05a5a" stroke-width="0.9"/><line x1="115.0" y1="508.9" x2="115.0" y2="511.2" stroke="#2ec82e" stroke-width="0.9"/><line x1="123.0" y1="495.6" x2="123.0" y2="497.9" stroke="#2ec82e" stroke-width="0.9"/><line x1="126.0" y1="506.3" x2="126.0" y2="508.6" stroke="#e05a5a" stroke-width="0.9"/><line x1="129.0" y1="494.6" x2="129.0" y2="496.9" stroke="#2ec82e" stroke-width="0.9"/><line x1="133.0" y1="489.2" x2="133.0" y2="491.5" stroke="#2ec82e" stroke-width="0.9"/><line x1="135.0" y1="501.3" x2="135.0" y2="503.6" stroke="#e05a5a" stroke-width="0.9"/><line x1="144.0" y1="493.7" x2="144.0" y2="496.0" stroke="#2ec82e" stroke-width="0.9"/><line x1="145.0" y1="495.7" x2="145.0" y2="498.0" stroke="#e05a5a" stroke-width="0.9"/><line x1="147.0" y1="491.2" x2="147.0" y2="493.5" stroke="#2ec82e" stroke-width="0.9"/><line x1="149.0" y1="498.4" x2="149.0" y2="500.7" stroke="#e05a5a" stroke-width="0.9"/><line x1="159.0" y1="505.3" x2="159.0" y2="507.6" stroke="#2ec82e" stroke-width="0.9"/><line x1="160.0" y1="508.7" x2="160.0" y2="511.0" stroke="#e05a5a" stroke-width="0.9"/><line x1="163.0" y1="494.3" x2="163.0" y2="496.6" stroke="#2ec82e" stroke-width="0.9"/><line x1="164.0" y1="498.5" x2="164.0" y2="500.8" stroke="#e05a5a" stroke-width="0.9"/><line x1="165.0" y1="494.9" x2="165.0" y2="497.2" stroke="#2ec82e" stroke-width="0.9"/><line x1="167.0" y1="496.0" x2="167.0" y2="498.3" stroke="#2ec82e" stroke-width="0.9"/><line x1="171.0" y1="509.0" x2="171.0" y2="511.3" stroke="#e05a5a" stroke-width="0.9"/><line x1="175.0" y1="499.0" x2="175.0" y2="501.3" stroke="#2ec82e" stroke-width="0.9"/><line x1="176.0" y1="500.7" x2="176.0" y2="503.0" stroke="#e05a5a" stroke-width="0.9"/><line x1="180.0" y1="504.8" x2="180.0" y2="507.1" stroke="#e05a5a" stroke-width="0.9"/><line x1="191.0" y1="489.8" x2="191.0" y2="492.1" stroke="#e05a5a" stroke-width="0.9"/><line x1="194.0" y1="482.9" x2="194.0" y2="485.2" stroke="#2ec82e" stroke-width="0.9"/><line x1="196.0" y1="483.5" x2="196.0" y2="485.8" stroke="#2ec82e" stroke-width="0.9"/><line x1="199.0" y1="483.7" x2="199.0" y2="486.0" stroke="#2ec82e" stroke-width="0.9"/><line x1="201.0" y1="484.4" x2="201.0" y2="486.7" stroke="#2ec82e" stroke-width="0.9"/><line x1="204.0" y1="487.2" x2="204.0" y2="489.5" stroke="#2ec82e" stroke-width="0.9"/><line x1="207.0" y1="489.3" x2="207.0" y2="491.6" stroke="#2ec82e" stroke-width="0.9"/><line x1="209.0" y1="484.6" x2="209.0" y2="486.9" stroke="#2ec82e" stroke-width="0.9"/><line x1="214.0" y1="490.1" x2="214.0" y2="492.4" stroke="#2ec82e" stroke-width="0.9"/><line x1="229.0" y1="504.0" x2="229.0" y2="506.3" stroke="#2ec82e" stroke-width="0.9"/><line x1="230.0" y1="505.7" x2="230.0" y2="508.0" stroke="#e05a5a" stroke-width="0.9"/><line x1="237.0" y1="493.4" x2="237.0" y2="495.7" stroke="#e05a5a" stroke-width="0.9"/><line x1="238.0" y1="489.7" x2="238.0" y2="492.0" stroke="#2ec82e" stroke-width="0.9"/><line x1="240.0" y1="496.2" x2="240.0" y2="498.5" stroke="#e05a5a" stroke-width="0.9"/><line x1="242.0" y1="490.0" x2="242.0" y2="492.3" stroke="#2ec82e" stroke-width="0.9"/><line x1="249.0" y1="513.3" x2="249.0" y2="515.6" stroke="#e05a5a" stroke-width="0.9"/><line x1="250.0" y1="510.4" x2="250.0" y2="512.7" stroke="#2ec82e" stroke-width="0.9"/><line x1="254.0" y1="531.3" x2="254.0" y2="533.6" stroke="#e05a5a" stroke-width="0.9"/><line x1="255.0" y1="526.8" x2="255.0" y2="529.1" stroke="#2ec82e" stroke-width="0.9"/><line x1="262.0" y1="507.5" x2="262.0" y2="509.8" stroke="#2ec82e" stroke-width="0.9"/><line x1="263.0" y1="510.4" x2="263.0" y2="512.7" stroke="#e05a5a" stroke-width="0.9"/><line x1="266.0" y1="503.9" x2="266.0" y2="506.2" stroke="#2ec82e" stroke-width="0.9"/><line x1="278.0" y1="482.1" x2="278.0" y2="484.4" stroke="#2ec82e" stroke-width="0.9"/><line x1="289.0" y1="483.9" x2="289.0" y2="486.2" stroke="#2ec82e" stroke-width="0.9"/><line x1="292.0" y1="494.5" x2="292.0" y2="496.8" stroke="#e05a5a" stroke-width="0.9"/><line x1="305.0" y1="456.4" x2="305.0" y2="458.7" stroke="#2ec82e" stroke-width="0.9"/><line x1="309.0" y1="455.2" x2="309.0" y2="457.5" stroke="#2ec82e" stroke-width="0.9"/><line x1="310.0" y1="457.3" x2="310.0" y2="459.6" stroke="#e05a5a" stroke-width="0.9"/><line x1="311.0" y1="452.0" x2="311.0" y2="454.3" stroke="#2ec82e" stroke-width="0.9"/><line x1="313.0" y1="460.0" x2="313.0" y2="462.3" stroke="#e05a5a" stroke-width="0.9"/><line x1="320.0" y1="435.4" x2="320.0" y2="437.7" stroke="#2ec82e" stroke-width="0.9"/><line x1="321.0" y1="438.9" x2="321.0" y2="441.2" stroke="#e05a5a" stroke-width="0.9"/><line x1="327.0" y1="406.0" x2="327.0" y2="408.3" stroke="#2ec82e" stroke-width="0.9"/><line x1="331.0" y1="429.6" x2="331.0" y2="431.9" stroke="#e05a5a" stroke-width="0.9"/><line x1="336.0" y1="411.7" x2="336.0" y2="414.0" stroke="#2ec82e" stroke-width="0.9"/><line x1="339.0" y1="408.8" x2="339.0" y2="411.1" stroke="#2ec82e" stroke-width="0.9"/><line x1="348.0" y1="430.2" x2="348.0" y2="432.5" stroke="#2ec82e" stroke-width="0.9"/><line x1="352.0" y1="423.1" x2="352.0" y2="425.4" stroke="#2ec82e" stroke-width="0.9"/><line x1="357.0" y1="426.6" x2="357.0" y2="428.9" stroke="#2ec82e" stroke-width="0.9"/><line x1="364.0" y1="454.6" x2="364.0" y2="456.9" stroke="#e05a5a" stroke-width="0.9"/><line x1="366.0" y1="435.6" x2="366.0" y2="437.9" stroke="#2ec82e" stroke-width="0.9"/><line x1="376.0" y1="463.9" x2="376.0" y2="466.2" stroke="#e05a5a" stroke-width="0.9"/><line x1="382.0" y1="423.9" x2="382.0" y2="426.2" stroke="#2ec82e" stroke-width="0.9"/><line x1="390.0" y1="430.7" x2="390.0" y2="433.0" stroke="#2ec82e" stroke-width="0.9"/><line x1="399.0" y1="499.0" x2="399.0" y2="501.3" stroke="#e05a5a" stroke-width="0.9"/><line x1="403.0" y1="473.0" x2="403.0" y2="475.3" stroke="#2ec82e" stroke-width="0.9"/><line x1="406.0" y1="482.9" x2="406.0" y2="485.2" stroke="#e05a5a" stroke-width="0.9"/><line x1="408.0" y1="473.6" x2="408.0" y2="475.9" stroke="#2ec82e" stroke-width="0.9"/><line x1="415.0" y1="499.5" x2="415.0" y2="501.8" stroke="#2ec82e" stroke-width="0.9"/><line x1="420.0" y1="478.0" x2="420.0" y2="480.3" stroke="#2ec82e" stroke-width="0.9"/><line x1="424.0" y1="478.7" x2="424.0" y2="481.0" stroke="#2ec82e" stroke-width="0.9"/><line x1="435.0" y1="463.3" x2="435.0" y2="465.6" stroke="#e05a5a" stroke-width="0.9"/><line x1="436.0" y1="459.8" x2="436.0" y2="462.1" stroke="#2ec82e" stroke-width="0.9"/><line x1="443.0" y1="435.8" x2="443.0" y2="438.1" stroke="#2ec82e" stroke-width="0.9"/><line x1="450.0" y1="463.7" x2="450.0" y2="466.0" stroke="#2ec82e" stroke-width="0.9"/><line x1="454.0" y1="465.7" x2="454.0" y2="468.0" stroke="#2ec82e" stroke-width="0.9"/><line x1="458.0" y1="483.5" x2="458.0" y2="485.8" stroke="#e05a5a" stroke-width="0.9"/><line x1="459.0" y1="481.7" x2="459.0" y2="484.0" stroke="#2ec82e" stroke-width="0.9"/><line x1="463.0" y1="497.3" x2="463.0" y2="499.6" stroke="#e05a5a" stroke-width="0.9"/><line x1="464.0" y1="493.3" x2="464.0" y2="495.6" stroke="#2ec82e" stroke-width="0.9"/><line x1="466.0" y1="501.6" x2="466.0" y2="503.9" stroke="#e05a5a" stroke-width="0.9"/><line x1="468.0" y1="487.7" x2="468.0" y2="490.0" stroke="#2ec82e" stroke-width="0.9"/><line x1="485.0" y1="490.0" x2="485.0" y2="492.3" stroke="#2ec82e" stroke-width="0.9"/><line x1="486.0" y1="493.7" x2="486.0" y2="496.0" stroke="#e05a5a" stroke-width="0.9"/><line x1="496.0" y1="477.5" x2="496.0" y2="479.8" stroke="#2ec82e" stroke-width="0.9"/><line x1="497.0" y1="484.3" x2="497.0" y2="486.6" stroke="#e05a5a" stroke-width="0.9"/><line x1="498.0" y1="482.3" x2="498.0" y2="484.6" stroke="#2ec82e" stroke-width="0.9"/><line x1="502.0" y1="498.9" x2="502.0" y2="501.2" stroke="#e05a5a" stroke-width="0.9"/><line x1="514.0" y1="485.5" x2="514.0" y2="487.8" stroke="#2ec82e" stroke-width="0.9"/><line x1="520.0" y1="487.7" x2="520.0" y2="490.0" stroke="#e05a5a" stroke-width="0.9"/><line x1="525.0" y1="472.3" x2="525.0" y2="474.6" stroke="#2ec82e" stroke-width="0.9"/><line x1="533.0" y1="507.5" x2="533.0" y2="509.8" stroke="#e05a5a" stroke-width="0.9"/><line x1="537.0" y1="468.5" x2="537.0" y2="470.8" stroke="#2ec82e" stroke-width="0.9"/><line x1="541.0" y1="486.1" x2="541.0" y2="488.4" stroke="#2ec82e" stroke-width="0.9"/><line x1="543.0" y1="505.8" x2="543.0" y2="508.1" stroke="#e05a5a" stroke-width="0.9"/><line x1="547.0" y1="488.9" x2="547.0" y2="491.2" stroke="#e05a5a" stroke-width="0.9"/><line x1="552.0" y1="471.8" x2="552.0" y2="474.1" stroke="#2ec82e" stroke-width="0.9"/><line x1="553.0" y1="473.9" x2="553.0" y2="476.2" stroke="#e05a5a" stroke-width="0.9"/><line x1="556.0" y1="469.2" x2="556.0" y2="471.5" stroke="#e05a5a" stroke-width="0.9"/><line x1="563.0" y1="462.4" x2="563.0" y2="464.7" stroke="#2ec82e" stroke-width="0.9"/><line x1="566.0" y1="463.5" x2="566.0" y2="465.8" stroke="#2ec82e" stroke-width="0.9"/><line x1="571.0" y1="462.6" x2="571.0" y2="464.9" stroke="#2ec82e" stroke-width="0.9"/><line x1="573.0" y1="470.7" x2="573.0" y2="473.0" stroke="#e05a5a" stroke-width="0.9"/><line x1="576.0" y1="468.8" x2="576.0" y2="471.1" stroke="#e05a5a" stroke-width="0.9"/><line x1="580.0" y1="476.5" x2="580.0" y2="478.8" stroke="#e05a5a" stroke-width="0.9"/><line x1="583.0" y1="463.7" x2="583.0" y2="466.0" stroke="#2ec82e" stroke-width="0.9"/><line x1="589.0" y1="459.7" x2="589.0" y2="462.0" stroke="#2ec82e" stroke-width="0.9"/><line x1="592.0" y1="456.7" x2="592.0" y2="459.0" stroke="#2ec82e" stroke-width="0.9"/><line x1="593.0" y1="460.8" x2="593.0" y2="463.1" stroke="#e05a5a" stroke-width="0.9"/><line x1="594.0" y1="458.9" x2="594.0" y2="461.2" stroke="#2ec82e" stroke-width="0.9"/><line x1="609.0" y1="460.5" x2="609.0" y2="462.8" stroke="#2ec82e" stroke-width="0.9"/><line x1="621.0" y1="438.4" x2="621.0" y2="440.7" stroke="#e05a5a" stroke-width="0.9"/><line x1="622.0" y1="432.8" x2="622.0" y2="435.1" stroke="#2ec82e" stroke-width="0.9"/><line x1="625.0" y1="429.7" x2="625.0" y2="432.0" stroke="#2ec82e" stroke-width="0.9"/><line x1="626.0" y1="433.7" x2="626.0" y2="436.0" stroke="#e05a5a" stroke-width="0.9"/><line x1="627.0" y1="431.0" x2="627.0" y2="433.3" stroke="#2ec82e" stroke-width="0.9"/><line x1="628.0" y1="432.9" x2="628.0" y2="435.2" stroke="#e05a5a" stroke-width="0.9"/><line x1="629.0" y1="429.5" x2="629.0" y2="431.8" stroke="#2ec82e" stroke-width="0.9"/><line x1="631.0" y1="427.9" x2="631.0" y2="430.2" stroke="#2ec82e" stroke-width="0.9"/><line x1="635.0" y1="426.1" x2="635.0" y2="428.4" stroke="#2ec82e" stroke-width="0.9"/><line x1="638.0" y1="430.7" x2="638.0" y2="433.0" stroke="#2ec82e" stroke-width="0.9"/><line x1="642.0" y1="427.0" x2="642.0" y2="429.3" stroke="#2ec82e" stroke-width="0.9"/><line x1="644.0" y1="424.3" x2="644.0" y2="426.6" stroke="#2ec82e" stroke-width="0.9"/><line x1="647.0" y1="420.8" x2="647.0" y2="423.1" stroke="#2ec82e" stroke-width="0.9"/><line x1="653.0" y1="414.2" x2="653.0" y2="416.5" stroke="#2ec82e" stroke-width="0.9"/><line x1="655.0" y1="414.3" x2="655.0" y2="416.6" stroke="#2ec82e" stroke-width="0.9"/><line x1="669.0" y1="404.8" x2="669.0" y2="407.1" stroke="#2ec82e" stroke-width="0.9"/><line x1="680.0" y1="395.7" x2="680.0" y2="398.0" stroke="#2ec82e" stroke-width="0.9"/><line x1="686.0" y1="398.6" x2="686.0" y2="400.9" stroke="#e05a5a" stroke-width="0.9"/><line x1="687.0" y1="394.9" x2="687.0" y2="397.2" stroke="#2ec82e" stroke-width="0.9"/><line x1="696.0" y1="394.6" x2="696.0" y2="396.9" stroke="#2ec82e" stroke-width="0.9"/><line x1="699.0" y1="390.5" x2="699.0" y2="392.8" stroke="#2ec82e" stroke-width="0.9"/><line x1="703.0" y1="387.3" x2="703.0" y2="389.6" stroke="#2ec82e" stroke-width="0.9"/><line x1="709.0" y1="406.4" x2="709.0" y2="408.7" stroke="#e05a5a" stroke-width="0.9"/><line x1="710.0" y1="398.9" x2="710.0" y2="401.2" stroke="#2ec82e" stroke-width="0.9"/><line x1="714.0" y1="392.7" x2="714.0" y2="395.0" stroke="#2ec82e" stroke-width="0.9"/><line x1="716.0" y1="404.3" x2="716.0" y2="406.6" stroke="#e05a5a" stroke-width="0.9"/><line x1="717.0" y1="400.7" x2="717.0" y2="403.0" stroke="#2ec82e" stroke-width="0.9"/><line x1="722.0" y1="406.6" x2="722.0" y2="408.9" stroke="#2ec82e" stroke-width="0.9"/><line x1="726.0" y1="417.7" x2="726.0" y2="420.0" stroke="#e05a5a" stroke-width="0.9"/></g>
<polyline points="5.0,561.7 6.0,560.3 7.0,560.4 8.0,556.8 9.0,556.0 10.0,555.5 11.0,550.7 12.0,550.1 13.0,548.2 14.0,546.6 15.0,541.0 16.0,540.4 17.0,537.5 18.0,539.7 19.0,537.7 20.0,532.8 21.0,536.7 22.0,537.9 23.0,537.5 24.0,538.6 25.0,537.1 26.0,537.3 27.0,541.2 28.0,540.2 29.0,542.6 30.0,544.6 31.0,544.4 32.0,547.8 33.0,548.7 34.0,551.9 35.0,552.8 36.0,556.1 37.0,558.0 38.0,557.2 39.0,554.4 40.0,551.8 41.0,554.1 42.0,552.4 43.0,549.9 44.0,547.4 45.0,543.5 46.0,541.2 47.0,539.8 48.0,538.0 49.0,541.3 50.0,538.6 51.0,540.5 52.0,537.4 53.0,541.2 54.0,541.1 55.0,537.0 56.0,538.8 57.0,543.3 58.0,540.6 59.0,543.3 60.0,539.8 61.0,537.8 62.0,540.7 63.0,542.8 64.0,541.2 65.0,541.4 66.0,544.1 67.0,548.3 68.0,547.8 69.0,544.9 70.0,543.3 71.0,540.3 72.0,537.8 73.0,539.7 74.0,534.4 75.0,534.7 76.0,532.3 77.0,529.1 78.0,530.3 79.0,527.2 80.0,530.3 81.0,527.6 82.0,529.6 83.0,529.1 84.0,530.2 85.0,534.9 86.0,534.7 87.0,528.7 88.0,528.7 89.0,521.6 90.0,519.4 91.0,521.4 92.0,519.6 93.0,516.0 94.0,520.3 95.0,515.4 96.0,515.0 97.0,517.3 98.0,514.2 99.0,513.5 100.0,511.6 101.0,510.9 102.0,512.9 103.0,510.2 104.0,511.4 105.0,509.3 106.0,508.1 107.0,509.2 108.0,504.9 109.0,504.8 110.0,505.7 111.0,501.2 112.0,503.4 113.0,510.0 114.0,511.8 115.0,510.9 116.0,512.9 117.0,518.3 118.0,512.5 119.0,501.3 120.0,504.3 121.0,502.6 122.0,499.8 123.0,497.6 124.0,497.8 125.0,499.4 126.0,506.6 127.0,500.5 128.0,501.1 129.0,496.6 130.0,497.8 131.0,495.5 132.0,492.8 133.0,491.2 134.0,499.7 135.0,501.6 136.0,500.0 137.0,499.3 138.0,508.5 139.0,514.6 140.0,508.3 141.0,507.3 142.0,500.7 143.0,497.0 144.0,495.7 145.0,496.0 146.0,493.2 147.0,493.2 148.0,495.9 149.0,498.7 150.0,497.9 151.0,500.2 152.0,504.2 153.0,505.7 154.0,507.4 155.0,511.1 156.0,514.5 157.0,516.0 158.0,511.4 159.0,507.3 160.0,509.0 161.0,504.5 162.0,502.6 163.0,496.3 164.0,498.8 165.0,496.9 166.0,499.3 167.0,498.0 168.0,502.8 169.0,500.3 170.0,505.6 171.0,509.3 172.0,507.6 173.0,504.0 174.0,501.1 175.0,501.0 176.0,501.0 177.0,497.2 178.0,500.7 179.0,503.6 180.0,505.1 181.0,499.9 182.0,499.3 183.0,497.0 184.0,496.4 185.0,497.7 186.0,497.3 187.0,495.8 188.0,493.3 189.0,487.6 190.0,489.4 191.0,490.1 192.0,488.1 193.0,487.0 194.0,484.9 195.0,486.6 196.0,485.5 197.0,485.7 198.0,488.9 199.0,485.7 200.0,489.9 201.0,486.4 202.0,490.1 203.0,489.9 204.0,489.2 205.0,492.4 206.0,492.0 207.0,491.3 208.0,491.7 209.0,486.6 210.0,489.8 211.0,495.9 212.0,497.0 213.0,493.3 214.0,492.1 215.0,498.3 216.0,498.9 217.0,499.7 218.0,505.5 219.0,505.7 220.0,510.9 221.0,511.0 222.0,514.9 223.0,519.7 224.0,520.3 225.0,520.1 226.0,514.7 227.0,513.1 228.0,509.0 229.0,506.0 230.0,506.0 231.0,505.9 232.0,504.0 233.0,501.4 234.0,501.0 235.0,495.5 236.0,493.1 237.0,493.7 238.0,491.7 239.0,493.4 240.0,496.5 241.0,495.2 242.0,492.0 243.0,493.5 244.0,498.9 245.0,501.2 246.0,499.7 247.0,501.6 248.0,505.4 249.0,513.6 250.0,512.4 251.0,519.7 252.0,522.4 253.0,524.9 254.0,531.6 255.0,528.8 256.0,531.0 257.0,527.2 258.0,519.3 259.0,521.8 260.0,516.5 261.0,513.0 262.0,509.5 263.0,510.7 264.0,507.7 265.0,507.2 266.0,505.9 267.0,509.2 268.0,512.6 269.0,512.5 270.0,511.3 271.0,506.4 272.0,498.2 273.0,492.3 274.0,489.8 275.0,489.7 276.0,485.2 277.0,484.7 278.0,484.1 279.0,488.6 280.0,490.1 281.0,493.1 282.0,496.4 283.0,501.9 284.0,511.6 285.0,505.3 286.0,494.2 287.0,492.4 288.0,490.2 289.0,485.9 290.0,488.7 291.0,490.7 292.0,494.8 293.0,494.3 294.0,503.4 295.0,502.1 296.0,498.7 297.0,495.0 298.0,487.8 299.0,483.8 300.0,476.3 301.0,472.7 302.0,466.8 303.0,462.3 304.0,459.2 305.0,458.4 306.0,464.2 307.0,462.7 308.0,460.7 309.0,457.2 310.0,457.6 311.0,454.0 312.0,459.0 313.0,460.3 314.0,459.2 315.0,453.7 316.0,451.7 317.0,448.3 318.0,446.8 319.0,442.6 320.0,437.4 321.0,439.2 322.0,432.6 323.0,431.0 324.0,421.8 325.0,417.1 326.0,415.6 327.0,408.0 328.0,413.0 329.0,420.1 330.0,425.3 331.0,429.9 332.0,424.1 333.0,420.5 334.0,415.0 335.0,414.5 336.0,413.7 337.0,418.4 338.0,416.1 339.0,410.8 340.0,421.3 341.0,428.8 342.0,430.1 343.0,433.9 344.0,436.3 345.0,438.9 346.0,436.0 347.0,435.3 348.0,432.2 349.0,433.4 350.0,442.0 351.0,435.1 352.0,425.1 353.0,428.9 354.0,430.3 355.0,430.9 356.0,429.4 357.0,428.6 358.0,431.4 359.0,442.6 360.0,442.8 361.0,444.8 362.0,449.7 363.0,451.9 364.0,454.9 365.0,448.6 366.0,437.6 367.0,447.7 368.0,454.5 369.0,449.1 370.0,440.4 371.0,434.2 372.0,432.8 373.0,439.4 374.0,449.6 375.0,457.8 376.0,464.2 377.0,453.4 378.0,444.0 379.0,436.8 380.0,432.7 381.0,432.4 382.0,425.9 383.0,435.6 384.0,437.3 385.0,443.3 386.0,448.5 387.0,446.0 388.0,439.0 389.0,435.2 390.0,432.7 391.0,433.8 392.0,441.3 393.0,445.4 394.0,455.1 395.0,461.1 396.0,468.3 397.0,480.2 398.0,489.6 399.0,499.3 400.0,489.5 401.0,480.2 402.0,476.4 403.0,475.0 404.0,475.7 405.0,479.8 406.0,483.2 407.0,481.0 408.0,475.6 409.0,482.0 410.0,483.5 411.0,492.3 412.0,498.7 413.0,503.3 414.0,504.0 415.0,501.5 416.0,502.4 417.0,493.4 418.0,492.8 419.0,488.2 420.0,480.0 421.0,482.2 422.0,486.6 423.0,485.7 424.0,480.7 425.0,480.9 426.0,474.6 427.0,469.1 428.0,457.9 429.0,457.8 430.0,457.7 431.0,452.3 432.0,454.3 433.0,458.0 434.0,460.3 435.0,463.6 436.0,461.8 437.0,467.0 438.0,464.4 439.0,459.0 440.0,456.0 441.0,448.3 442.0,442.6 443.0,437.8 444.0,441.4 445.0,448.3 446.0,454.1 447.0,460.4 448.0,463.0 449.0,468.2 450.0,465.7 451.0,466.6 452.0,464.7 453.0,468.4 454.0,467.7 455.0,470.9 456.0,479.2 457.0,479.8 458.0,483.8 459.0,483.7 460.0,486.8 461.0,490.4 462.0,493.3 463.0,497.6 464.0,495.3 465.0,500.1 466.0,501.9 467.0,493.2 468.0,489.7 469.0,494.0 470.0,494.8 471.0,496.3 472.0,500.1 473.0,506.1 474.0,507.3 475.0,518.2 476.0,523.7 477.0,517.1 478.0,512.0 479.0,507.4 480.0,502.8 481.0,500.6 482.0,498.4 483.0,499.4 484.0,496.7 485.0,492.0 486.0,494.0 487.0,491.4 488.0,493.2 489.0,495.1 490.0,494.5 491.0,493.9 492.0,490.5 493.0,486.1 494.0,484.8 495.0,483.2 496.0,479.5 497.0,484.6 498.0,484.3 499.0,489.1 500.0,493.2 501.0,493.9 502.0,499.2 503.0,493.3 504.0,485.7 505.0,478.5 506.0,477.5 507.0,470.9 508.0,470.8 509.0,474.2 510.0,475.4 511.0,478.5 512.0,481.0 513.0,487.8 514.0,487.5 515.0,489.5 516.0,491.5 517.0,491.0 518.0,484.0 519.0,485.6 520.0,488.0 521.0,487.0 522.0,489.4 523.0,482.5 524.0,478.3 525.0,474.3 526.0,474.4 527.0,476.9 528.0,482.3 529.0,483.6 530.0,486.7 531.0,492.6 532.0,497.9 533.0,507.8 534.0,493.3 535.0,481.7 536.0,472.6 537.0,470.5 538.0,489.0 539.0,502.5 540.0,499.9 541.0,488.1 542.0,498.8 543.0,506.1 544.0,502.0 545.0,496.6 546.0,487.5 547.0,489.2 548.0,482.9 549.0,480.1 550.0,478.9 551.0,475.9 552.0,473.8 553.0,474.2 554.0,472.0 555.0,468.8 556.0,469.5 557.0,465.5 558.0,462.3 559.0,461.1 560.0,457.4 561.0,459.7 562.0,464.8 563.0,464.4 564.0,468.2 565.0,468.4 566.0,465.5 567.0,471.7 568.0,472.5 569.0,465.9 570.0,468.9 571.0,464.6 572.0,466.5 573.0,471.0 574.0,468.6 575.0,468.5 576.0,469.1 577.0,466.2 578.0,468.2 579.0,474.3 580.0,476.8 581.0,472.2 582.0,466.2 583.0,465.7 584.0,466.4 585.0,466.7 586.0,467.5 587.0,467.5 588.0,462.6 589.0,461.7 590.0,462.3 591.0,460.4 592.0,458.7 593.0,461.1 594.0,460.9 595.0,463.6 596.0,466.2 597.0,472.8 598.0,476.5 599.0,479.3 600.0,485.5 601.0,476.3 602.0,472.2 603.0,467.6 604.0,462.7 605.0,462.2 606.0,462.7 607.0,466.0 608.0,463.9 609.0,462.5 610.0,466.7 611.0,471.4 612.0,471.3 613.0,462.6 614.0,457.7 615.0,452.3 616.0,447.1 617.0,440.8 618.0,439.2 619.0,438.7 620.0,438.6 621.0,438.7 622.0,434.8 623.0,436.2 624.0,432.6 625.0,431.7 626.0,434.0 627.0,433.0 628.0,433.2 629.0,431.5 630.0,431.9 631.0,429.9 632.0,430.1 633.0,431.9 634.0,431.9 635.0,428.1 636.0,428.9 637.0,433.2 638.0,432.7 639.0,435.0 640.0,433.4 641.0,432.2 642.0,429.0 643.0,429.7 644.0,426.3 645.0,426.9 646.0,427.7 647.0,422.8 648.0,422.8 649.0,422.6 650.0,422.4 651.0,419.1 652.0,418.3 653.0,416.2 654.0,420.1 655.0,416.3 656.0,417.0 657.0,420.4 658.0,418.2 659.0,417.7 660.0,413.9 661.0,414.9 662.0,409.3 663.0,408.4 664.0,411.6 665.0,409.0 666.0,410.9 667.0,411.9 668.0,410.4 669.0,406.8 670.0,410.0 671.0,415.2 672.0,421.3 673.0,414.3 674.0,407.9 675.0,406.2 676.0,403.7 677.0,404.0 678.0,402.5 679.0,401.3 680.0,397.7 681.0,398.7 682.0,395.4 683.0,395.0 684.0,394.9 685.0,397.4 686.0,398.9 687.0,396.9 688.0,399.2 689.0,398.6 690.0,397.9 691.0,397.4 692.0,396.4 693.0,394.3 694.0,395.4 695.0,397.3 696.0,396.6 697.0,398.9 698.0,396.0 699.0,392.5 700.0,394.5 701.0,394.8 702.0,391.1 703.0,389.3 704.0,393.8 705.0,395.6 706.0,397.4 707.0,402.3 708.0,403.2 709.0,406.7 710.0,400.9 711.0,401.9 712.0,401.6 713.0,396.2 714.0,394.7 715.0,401.0 716.0,404.6 717.0,402.7 718.0,409.8 719.0,411.0 720.0,413.4 721.0,411.8 722.0,408.6 723.0,410.1 724.0,414.8 725.0,415.1 726.0,418.0 727.0,417.4" fill="none" stroke="#2a2020" stroke-width="0.8" stroke-linejoin="round"/>
<polyline points="6.3,561.5 7.3,560.9 8.3,559.1 9.3,556.9 10.3,556.3 11.3,553.6 12.3,550.9 13.3,549.6 14.3,547.9 15.3,544.3 16.3,541.2 17.3,539.4 18.3,539.1 19.3,539.2 20.3,535.8 21.3,535.2 22.3,537.8 23.3,538.2 24.3,538.6 25.3,538.4 26.3,537.7 27.3,539.7 28.3,541.2 29.3,541.9 30.3,544.1 31.3,545.0 32.3,546.6 33.3,548.7 34.3,550.8 35.3,552.8 36.3,554.9 37.3,557.6 38.3,558.1 39.3,556.3 40.3,553.6 41.3,553.4 42.3,553.8 43.3,551.7 44.3,549.2 45.3,545.9 46.3,542.9 47.3,541.0 48.3,539.4 49.3,540.1 50.3,540.5 51.3,540.1 52.3,539.5 53.3,539.8 54.3,541.7 55.3,539.6 56.3,538.4 57.3,541.5 58.3,542.5 59.3,542.5 60.3,542.1 61.3,539.3 62.3,539.8 63.3,542.3 64.3,542.5 65.3,541.8 66.3,543.3 67.3,546.7 68.3,548.5 69.3,546.8 70.3,544.6 71.3,542.3 72.3,539.5 73.3,539.2 74.3,537.5 75.3,535.1 76.3,534.0 77.3,531.2 78.3,530.2 79.3,529.2 80.3,529.2 81.3,529.5 82.3,529.1 83.3,529.8 84.3,530.2 85.3,533.0 86.3,535.3 87.3,532.2 88.3,529.2 89.3,525.6 90.3,521.0 91.3,520.9 92.3,521.0 93.3,518.3 94.3,518.7 95.3,518.4 96.3,515.7 97.3,516.7 98.3,516.3 99.3,514.4 100.3,513.0 101.3,511.8 102.3,512.4 103.3,512.0 104.3,511.3 105.3,510.8 106.3,509.2 107.3,509.2 108.3,507.6 109.3,505.3 110.3,505.7 111.3,504.0 112.3,502.8 113.3,507.2 114.3,511.4 115.3,511.9 116.3,512.4 117.3,516.1 118.3,515.9 119.3,507.4 120.3,503.3 121.3,504.0 122.3,501.7 123.3,499.2 124.3,498.2 125.3,499.1 126.3,503.5 127.3,504.1 128.3,501.3 129.3,499.4 130.3,497.7 131.3,497.2 132.3,494.7 133.3,492.5 134.3,496.0 135.3,501.2 136.3,501.3 137.3,500.2 138.3,504.4 139.3,512.1 140.3,512.0 141.3,508.3 142.3,504.5 143.3,499.3 144.3,496.8 145.3,496.4 146.3,495.1 147.3,493.7 148.3,495.1 149.3,497.8 150.3,498.8 151.3,499.6 152.3,502.7 153.3,505.4 154.3,507.0 155.3,509.7 156.3,513.3 157.3,515.7 158.3,514.2 159.3,509.8 160.3,508.6 161.3,507.2 162.3,504.0 163.3,500.0 164.3,498.0 165.3,498.3 166.3,498.6 167.3,499.1 168.3,500.9 169.3,502.0 170.3,503.4 171.3,508.0 172.3,509.0 173.3,506.3 174.3,503.1 175.3,501.6 176.3,501.5 177.3,499.6 178.3,499.4 179.3,502.6 180.3,504.8 181.3,503.0 182.3,500.1 183.3,498.7 184.3,497.2 185.3,497.6 186.3,498.0 187.3,497.1 188.3,495.0 189.3,491.0 190.3,489.0 191.3,490.3 192.3,489.6 193.3,488.1 194.3,486.5 195.3,486.2 196.3,486.5 197.3,486.1 198.3,487.8 199.3,487.8 200.3,488.3 201.3,488.6 202.3,488.7 203.3,490.5 204.3,490.0 205.3,491.3 206.3,492.7 207.3,492.1 208.3,492.0 209.3,489.7 210.3,488.7 211.3,493.3 212.3,496.9 213.3,495.7 214.3,493.2 215.3,495.7 216.3,499.1 217.3,499.8 218.3,503.1 219.3,506.1 220.3,508.8 221.3,511.5 222.3,513.5 223.3,517.8 224.3,520.5 225.3,520.7 226.3,517.9 227.3,514.4 228.3,511.6 229.3,508.0 230.3,506.5 231.3,506.4 232.3,505.4 233.3,503.2 234.3,501.7 235.3,498.8 236.3,494.8 237.3,493.9 238.3,493.2 239.3,493.1 240.3,495.5 241.3,496.4 242.3,494.1 243.3,493.2 244.3,496.7 245.3,500.5 246.3,501.0 247.3,501.2 248.3,504.0 249.3,510.0 250.3,513.5 251.3,516.6 252.3,521.5 253.3,524.2 254.3,528.8 255.3,530.7 256.3,530.4 257.3,529.6 258.3,523.8 259.3,521.1 260.3,519.7 261.3,515.3 262.3,511.7 263.3,510.6 264.3,509.7 265.3,508.0 266.3,507.0 267.3,508.0 268.3,511.4 269.3,513.1 270.3,512.4 271.3,509.3 272.3,502.8 273.3,495.7 274.3,491.6 275.3,490.3 276.3,488.0 277.3,485.5 278.3,484.9 279.3,486.9 280.3,489.9 281.3,492.1 282.3,495.3 283.3,499.7 284.3,507.3 285.3,509.0 286.3,500.2 287.3,493.8 288.3,491.8 289.3,488.6 290.3,487.8 291.3,490.2 292.3,493.2 293.3,495.1 294.3,499.3 295.3,503.3 296.3,500.9 297.3,497.3 298.3,491.9 299.3,486.3 300.3,480.6 301.3,475.0 302.3,470.3 303.3,465.0 304.3,461.3 305.3,459.3 306.3,461.8 307.3,464.0 308.3,462.2 309.3,459.4 310.3,457.9 311.3,456.3 312.3,457.0 313.3,460.1 314.3,460.2 315.3,456.9 316.3,453.2 317.3,450.5 318.3,448.1 319.3,445.2 320.3,440.5 321.3,438.8 322.3,436.4 323.3,432.3 324.3,426.9 325.3,420.0 326.3,416.8 327.3,412.3 328.3,411.0 329.3,417.1 330.3,423.2 331.3,428.1 332.3,427.5 333.3,422.8 334.3,418.2 335.3,415.2 336.3,414.6 337.3,416.6 338.3,417.8 339.3,414.0 340.3,416.6 341.3,425.5 342.3,430.0 343.3,432.5 344.3,435.6 345.3,438.1 346.3,438.0 347.3,436.1 348.3,434.3 349.3,433.3 350.3,438.2 351.3,439.0 352.3,430.6 353.3,427.5 354.3,430.1 355.3,431.1 356.3,430.6 357.3,429.5 358.3,430.5 359.3,437.5 360.3,443.2 361.3,444.3 362.3,447.7 363.3,451.3 364.3,453.9 365.3,452.3 366.3,443.6 367.3,443.1 368.3,451.6 369.3,452.3 370.3,445.2 371.3,437.8 372.3,434.0 373.3,436.6 374.3,445.0 375.3,454.2 376.3,461.5 377.3,459.3 378.3,449.2 379.3,440.9 380.3,435.2 381.3,433.0 382.3,429.7 383.3,431.2 384.3,436.9 385.3,440.8 386.3,446.4 387.3,447.8 388.3,443.0 389.3,437.6 390.3,434.4 391.3,433.7 392.3,438.0 393.3,443.8 394.3,450.7 395.3,458.6 396.3,465.2 397.3,474.7 398.3,485.4 399.3,495.0 400.3,494.9 401.3,485.3 402.3,478.8 403.3,476.2 404.3,475.9 405.3,478.3 406.3,482.0 407.3,482.6 408.3,478.8 409.3,479.3 410.3,483.3 411.3,488.4 412.3,496.0 413.3,501.5 414.3,504.1 415.3,503.2 416.3,502.4 417.3,498.4 418.3,493.6 419.3,491.0 420.3,484.6 421.3,481.6 422.3,484.9 423.3,486.6 424.3,483.7 425.3,481.3 426.3,478.2 427.3,472.3 428.3,464.0 429.3,458.3 430.3,458.2 431.3,455.5 432.3,453.8 433.3,456.7 434.3,459.7 435.3,462.5 436.3,463.2 437.3,464.9 438.3,466.2 439.3,462.2 440.3,458.0 441.3,452.6 442.3,445.9 443.3,440.7 444.3,440.1 445.3,445.3 446.3,451.7 447.3,457.7 448.3,462.2 449.3,466.1 450.3,467.5 451.3,466.6 452.3,466.2 453.3,467.1 454.3,468.6 455.3,469.8 456.3,475.5 457.3,480.0 458.3,482.3 459.3,484.3 460.3,485.8 461.3,489.1 462.3,492.3 463.3,495.9 464.3,496.9 465.3,498.2 466.3,501.5 467.3,498.1 468.3,492.0 469.3,492.4 470.3,494.9 471.3,496.0 472.3,498.7 473.3,503.6 474.3,507.2 475.3,513.2 476.3,521.4 477.3,520.9 478.3,515.1 479.3,510.2 480.3,505.6 481.3,502.2 482.3,500.0 483.3,499.4 484.3,498.5 485.3,494.8 486.3,493.5 487.3,493.2 488.3,492.8 489.3,494.7 490.3,495.3 491.3,494.7 492.3,492.7 493.3,488.8 494.3,486.0 495.3,484.5 496.3,481.8 497.3,482.5 498.3,484.9 499.3,487.2 500.3,491.6 501.3,494.0 502.3,497.1 503.3,496.7 504.3,490.0 505.3,482.6 506.3,478.5 507.3,474.7 508.3,471.3 509.3,473.0 510.3,475.3 511.3,477.5 512.3,480.3 513.3,484.9 514.3,488.1 515.3,489.0 516.3,491.0 517.3,491.7 518.3,488.0 519.3,485.3 520.3,487.3 521.3,488.0 522.3,488.7 523.3,486.5 524.3,480.9 525.3,476.8 526.3,474.9 527.3,476.2 528.3,480.1 529.3,483.4 530.3,485.7 531.3,490.2 532.3,495.7 533.3,503.3 534.3,501.0 535.3,488.0 536.3,477.7 537.3,472.1 538.3,480.2 539.3,496.2 540.3,501.7 541.3,494.5 542.3,494.0 543.3,503.0 544.3,504.6 545.3,499.8 546.3,492.6 547.3,488.8 548.3,486.5 549.3,482.0 550.3,480.0 551.3,477.9 552.3,475.4 553.3,474.5 554.3,473.6 555.3,470.9 556.3,469.7 557.3,468.0 558.3,464.4 559.3,462.2 560.3,459.8 561.3,459.1 562.3,462.8 563.3,465.1 564.3,466.8 565.3,468.8 566.3,467.4 567.3,469.1 568.3,472.6 569.3,469.7 570.3,467.9 571.3,467.3 572.3,466.1 573.3,469.3 574.3,470.3 575.3,469.0 576.3,469.3 577.3,468.2 578.3,467.7 579.3,471.8 580.3,476.1 581.3,475.0 582.3,469.7 583.3,466.4 584.3,466.6 585.3,467.0 586.3,467.6 587.3,468.0 588.3,465.5 589.3,462.6 590.3,462.5 591.3,461.8 592.3,460.0 593.3,460.4 594.3,461.5 595.3,462.7 596.3,465.4 597.3,470.0 598.3,475.2 599.3,478.4 600.3,482.9 601.3,481.4 602.3,474.8 603.3,470.4 604.3,465.6 605.3,463.0 606.3,463.0 607.3,464.9 608.3,465.4 609.3,463.7 610.3,465.1 611.3,469.6 612.3,471.8 613.3,467.4 614.3,460.6 615.3,455.5 616.3,450.2 617.3,444.4 618.3,440.5 619.3,439.5 620.3,439.1 621.3,439.1 622.3,437.2 623.3,436.0 624.3,434.9 625.3,432.6 626.3,433.3 627.3,434.0 628.3,433.6 629.3,432.9 630.3,432.2 631.3,431.4 632.3,430.5 633.3,431.5 634.3,432.4 635.3,430.5 636.3,429.0 637.3,431.6 638.3,433.5 639.3,434.3 640.3,434.7 641.3,433.3 642.3,431.1 643.3,429.9 644.3,428.5 645.3,427.1 646.3,427.8 647.3,425.8 648.3,423.3 649.3,423.2 650.3,423.0 651.3,421.2 652.3,419.2 653.3,417.8 654.3,418.7 655.3,418.7 656.3,417.2 657.3,419.2 658.3,419.8 659.3,418.5 660.3,416.3 661.3,414.9 662.3,412.6 663.3,409.3 664.3,410.5 665.3,410.8 666.3,410.4 667.3,411.9 668.3,411.7 669.3,409.1 670.3,408.9 671.3,413.1 672.3,418.7 673.3,418.3 674.3,411.6 675.3,407.5 676.3,405.4 677.3,404.4 678.3,403.7 679.3,402.4 680.3,400.0 681.3,398.7 682.3,397.6 683.3,395.7 684.3,395.5 685.3,396.7 686.3,398.7 687.3,398.4 688.3,398.6 689.3,399.4 690.3,398.7 691.3,398.2 692.3,397.4 693.3,395.8 694.3,395.3 695.3,396.8 696.3,397.4 697.3,398.2 698.3,398.0 699.3,394.8 700.3,394.0 701.3,395.1 702.3,393.5 703.3,390.7 704.3,392.0 705.3,395.2 706.3,397.0 707.3,400.3 708.3,403.2 709.3,405.4 710.3,404.3 711.3,401.9 712.3,402.3 713.3,399.4 714.3,395.9 715.3,398.3 716.3,403.3 717.3,404.1 718.3,406.7 719.3,410.9 720.3,412.7 721.3,413.1 722.3,410.7 723.3,409.8 724.3,413.0 725.3,415.5 726.3,417.1" fill="none" stroke="#c05a5a" stroke-width="0.9" stroke-linejoin="round" opacity="0.9"/>
<polyline points="6.5,561.0 7.5,560.7 8.5,558.0 9.5,556.5 10.5,555.9 11.5,552.2 12.5,550.5 13.5,549.0 14.5,547.3 15.5,542.7 16.5,540.8 17.5,538.5 18.5,539.5 19.5,538.5 20.5,534.3 21.5,536.0 22.5,537.9 23.5,537.9 24.5,538.7 25.5,537.8 26.5,537.5 27.5,540.5 28.5,540.7 29.5,542.3 30.5,544.4 31.5,544.7 32.5,547.2 33.5,548.7 34.5,551.4 35.5,552.9 36.5,555.6 37.5,557.8 38.5,557.7 39.5,555.4 40.5,552.7 41.5,553.8 42.5,553.2 43.5,550.8 44.5,548.3 45.5,544.8 46.5,542.1 47.5,540.5 48.5,538.7 49.5,540.8 50.5,539.6 51.5,540.4 52.5,538.5 53.5,540.5 54.5,541.4 55.5,538.3 56.5,538.6 57.5,542.5 58.5,541.6 59.5,542.9 60.5,541.0 61.5,538.6 62.5,540.3 63.5,542.6 64.5,541.9 65.5,541.7 66.5,543.7 67.5,547.5 68.5,548.2 69.5,545.9 70.5,544.0 71.5,541.3 72.5,538.7 73.5,539.5 74.5,536.0 75.5,534.9 76.5,533.2 77.5,530.2 78.5,530.3 79.5,528.3 80.5,529.8 81.5,528.6 82.5,529.4 83.5,529.5 84.5,530.2 85.5,534.0 86.5,535.0 87.5,530.5 88.5,529.0 89.5,523.7 90.5,520.3 91.5,521.2 92.5,520.3 93.5,517.2 94.5,519.5 95.5,516.9 96.5,515.4 97.5,517.1 98.5,515.3 99.5,514.0 100.5,512.4 101.5,511.4 102.5,512.7 103.5,511.1 104.5,511.4 105.5,510.1 106.5,508.7 107.5,509.2 108.5,506.3 109.5,505.1 110.5,505.8 111.5,502.6 112.5,503.2 113.5,508.6 114.5,511.6 115.5,511.4 116.5,512.7 117.5,517.3 118.5,514.2 119.5,504.4 120.5,503.8 121.5,503.3 122.5,500.8 123.5,498.4 124.5,498.0 125.5,499.3 126.5,505.1 127.5,502.3 128.5,501.3 129.5,498.1 130.5,497.8 131.5,496.4 132.5,493.8 133.5,491.9 134.5,497.9 135.5,501.4 136.5,500.7 137.5,499.8 138.5,506.5 139.5,513.4 140.5,510.2 141.5,507.9 142.5,502.6 143.5,498.2 144.5,496.3 145.5,496.2 146.5,494.2 147.5,493.5 148.5,495.5 149.5,498.3 150.5,498.4 151.5,500.0 152.5,503.5 153.5,505.6 154.5,507.3 155.5,510.4 156.5,513.9 157.5,515.9 158.5,512.8 159.5,508.6 160.5,508.8 161.5,505.9 162.5,503.4 163.5,498.2 164.5,498.5 165.5,497.7 166.5,499.0 167.5,498.6 168.5,501.9 169.5,501.2 170.5,504.6 171.5,508.7 172.5,508.3 173.5,505.2 174.5,502.2 175.5,501.3 176.5,501.3 177.5,498.4 178.5,500.1 179.5,503.2 180.5,505.0 181.5,501.5 182.5,499.7 183.5,497.9 184.5,496.9 185.5,497.7 186.5,497.7 187.5,496.5 188.5,494.2 189.5,489.4 190.5,489.3 191.5,490.2 192.5,488.9 193.5,487.6 194.5,485.7 195.5,486.4 196.5,486.0 197.5,485.9 198.5,488.4 199.5,486.8 200.5,489.1 201.5,487.6 202.5,489.4 203.5,490.2 204.5,489.6 205.5,491.9 206.5,492.4 207.5,491.8 208.5,491.9 209.5,488.2 210.5,489.3 211.5,494.7 212.5,497.0 213.5,494.6 214.5,492.7 215.5,497.0 216.5,499.0 217.5,499.8 218.5,504.4 219.5,506.0 220.5,509.9 221.5,511.3 222.5,514.3 223.5,518.8 224.5,520.5 225.5,520.5 226.5,516.3 227.5,513.8 228.5,510.3 229.5,507.0 230.5,506.3 231.5,506.2 232.5,504.7 233.5,502.4 234.5,501.4 235.5,497.2 236.5,494.0 237.5,493.9 238.5,492.5 239.5,493.3 240.5,496.0 241.5,495.8 242.5,493.1 243.5,493.4 244.5,497.8 245.5,500.9 246.5,500.4 247.5,501.4 248.5,504.7 249.5,511.8 250.5,513.0 251.5,518.2 252.5,522.0 253.5,524.6 254.5,530.3 255.5,529.8 256.5,530.7 257.5,528.5 258.5,521.6 259.5,521.5 260.5,518.2 261.5,514.2 262.5,510.6 263.5,510.7 264.5,508.8 265.5,507.6 266.5,506.5 267.5,508.7 268.5,512.0 269.5,512.8 270.5,511.9 271.5,507.9 272.5,500.5 273.5,494.0 274.5,490.7 275.5,490.0 276.5,486.6 277.5,485.1 278.5,484.6 279.5,487.8 280.5,490.0 281.5,492.7 282.5,495.9 283.5,500.8 284.5,509.5 285.5,507.2 286.5,497.3 287.5,493.2 288.5,491.1 289.5,487.3 290.5,488.3 291.5,490.5 292.5,494.1 293.5,494.7 294.5,501.4 295.5,502.7 296.5,499.8 297.5,496.2 298.5,489.9 299.5,485.1 300.5,478.5 301.5,473.9 302.5,468.6 303.5,463.7 304.5,460.3 305.5,458.9 306.5,463.1 307.5,463.4 308.5,461.5 309.5,458.4 310.5,457.8 311.5,455.2 312.5,458.0 313.5,460.3 314.5,459.7 315.5,455.3 316.5,452.5 317.5,449.4 318.5,447.5 319.5,444.0 320.5,439.0 321.5,439.1 322.5,434.5 323.5,431.7 324.5,424.4 325.5,418.6 326.5,416.3 327.5,410.2 328.5,412.1 329.5,418.6 330.5,424.3 331.5,429.0 332.5,425.8 333.5,421.7 334.5,416.6 335.5,414.9 336.5,414.2 337.5,417.6 338.5,417.0 339.5,412.5 340.5,419.0 341.5,427.2 342.5,430.1 343.5,433.3 344.5,436.0 345.5,438.6 346.5,437.0 347.5,435.8 348.5,433.3 349.5,433.4 350.5,440.1 351.5,437.1 352.5,427.9 353.5,428.3 354.5,430.3 355.5,431.0 356.5,430.0 357.5,429.1 358.5,431.0 359.5,440.1 360.5,443.0 361.5,444.6 362.5,448.8 363.5,451.6 364.5,454.5 365.5,450.5 366.5,440.6 367.5,445.5 368.5,453.1 369.5,450.7 370.5,442.8 371.5,436.0 372.5,433.5 373.5,438.1 374.5,447.4 375.5,456.0 376.5,462.9 377.5,456.4 378.5,446.6 379.5,438.9 380.5,434.0 381.5,432.8 382.5,427.8 383.5,433.5 384.5,437.2 385.5,442.1 386.5,447.5 387.5,447.0 388.5,441.1 389.5,436.4 390.5,433.6 391.5,433.8 392.5,439.7 393.5,444.7 394.5,452.9 395.5,459.9 396.5,466.8 397.5,477.5 398.5,487.6 399.5,497.2 400.5,492.3 401.5,482.8 402.5,477.7 403.5,475.7 404.5,475.9 405.5,479.1 406.5,482.6 407.5,481.8 408.5,477.3 409.5,480.7 410.5,483.4 411.5,490.4 412.5,497.4 413.5,502.4 414.5,504.1 415.5,502.4 416.5,502.4 417.5,496.0 418.5,493.2 419.5,489.6 420.5,482.3 421.5,481.9 422.5,485.8 423.5,486.2 424.5,482.3 425.5,481.1 426.5,476.4 427.5,470.8 428.5,461.0 429.5,458.1 430.5,458.0 431.5,454.0 432.5,454.1 433.5,457.4 434.5,460.0 435.5,463.1 436.5,462.6 437.5,466.0 438.5,465.4 439.5,460.7 440.5,457.1 441.5,450.5 442.5,444.3 443.5,439.3 444.5,440.8 445.5,446.9 446.5,452.9 447.5,459.1 448.5,462.7 449.5,467.2 450.5,466.6 451.5,466.6 452.5,465.5 453.5,467.8 454.5,468.2 455.5,470.4 456.5,477.4 457.5,479.9 458.5,483.1 459.5,484.0 460.5,486.3 461.5,489.8 462.5,492.9 463.5,496.8 464.5,496.1 465.5,499.2 466.5,501.8 467.5,495.7 468.5,490.9 469.5,493.2 470.5,494.9 471.5,496.2 472.5,499.5 473.5,504.9 474.5,507.3 475.5,515.8 476.5,522.6 477.5,519.1 478.5,513.6 479.5,508.8 480.5,504.2 481.5,501.4 482.5,499.2 483.5,499.4 484.5,497.7 485.5,493.5 486.5,493.8 487.5,492.3 488.5,493.1 489.5,494.9 490.5,494.9 491.5,494.3 492.5,491.6 493.5,487.5 494.5,485.4 495.5,483.9 496.5,480.7 497.5,483.6 498.5,484.6 499.5,488.2 500.5,492.4 501.5,494.0 502.5,498.2 503.5,495.1 504.5,487.9 505.5,480.6 506.5,478.0 507.5,472.9 508.5,471.1 509.5,473.7 510.5,475.4 511.5,478.0 512.5,480.7 513.5,486.4 514.5,487.8 515.5,489.3 516.5,491.3 517.5,491.4 518.5,486.1 519.5,485.5 520.5,487.7 521.5,487.5 522.5,489.1 523.5,484.5 524.5,479.6 525.5,475.6 526.5,474.7 527.5,476.6 528.5,481.2 529.5,483.6 530.5,486.2 531.5,491.4 532.5,496.9 533.5,505.6 534.5,497.2 535.5,484.9 536.5,475.2 537.5,471.4 538.5,484.7 539.5,499.4 540.5,500.8 541.5,491.3 542.5,496.5 543.5,504.6 544.5,503.3 545.5,498.3 546.5,490.1 547.5,489.1 548.5,484.8 549.5,481.1 550.5,479.5 551.5,477.0 552.5,474.6 553.5,474.4 554.5,472.9 555.5,469.9 556.5,469.7 557.5,466.8 558.5,463.4 559.5,461.7 560.5,458.6 561.5,459.5 562.5,463.8 563.5,464.8 564.5,467.6 565.5,468.6 566.5,466.5 567.5,470.5 568.5,472.6 569.5,467.9 570.5,468.5 571.5,466.0 572.5,466.4 573.5,470.2 574.5,469.5 575.5,468.8 576.5,469.3 577.5,467.3 578.5,468.0 579.5,473.1 580.5,476.5 581.5,473.7 582.5,468.0 583.5,466.1 584.5,466.5 585.5,466.9 586.5,467.6 587.5,467.8 588.5,464.1 589.5,462.2 590.5,462.4 591.5,461.2 592.5,459.4 593.5,460.8 594.5,461.2 595.5,463.2 596.5,465.8 597.5,471.4 598.5,475.9 599.5,478.9 600.5,484.3 601.5,478.9 602.5,473.5 603.5,469.0 604.5,464.2 605.5,462.6 606.5,462.9 607.5,465.5 608.5,464.7 609.5,463.2 610.5,466.0 611.5,470.6 612.5,471.6 613.5,465.1 614.5,459.2 615.5,454.0 616.5,448.7 617.5,442.6 618.5,439.9 619.5,439.1 620.5,438.9 621.5,439.0 622.5,436.1 623.5,436.2 624.5,433.8 625.5,432.2 626.5,433.7 627.5,433.6 628.5,433.5 629.5,432.3 630.5,432.1 631.5,430.7 632.5,430.4 633.5,431.7 634.5,432.2 635.5,429.4 636.5,429.0 637.5,432.4 638.5,433.1 639.5,434.7 640.5,434.1 641.5,432.8 642.5,430.1 643.5,429.8 644.5,427.4 645.5,427.0 646.5,427.8 647.5,424.3 648.5,423.1 649.5,423.0 650.5,422.7 651.5,420.2 652.5,418.8 653.5,417.0 654.5,419.4 655.5,417.6 656.5,417.1 657.5,419.8 658.5,419.1 659.5,418.1 660.5,415.1 661.5,414.9 662.5,411.0 663.5,408.9 664.5,411.1 665.5,409.9 666.5,410.7 667.5,412.0 668.5,411.1 669.5,408.0 670.5,409.5 671.5,414.2 672.5,420.1 673.5,416.3 674.5,409.8 675.5,406.9 676.5,404.6 677.5,404.2 678.5,403.2 679.5,401.9 680.5,398.9 681.5,398.7 682.5,396.5 683.5,395.4 684.5,395.2 685.5,397.1 686.5,398.8 687.5,397.7 688.5,399.0 689.5,399.0 690.5,398.4 691.5,397.8 692.5,396.9 693.5,395.1 694.5,395.4 695.5,397.1 696.5,397.1 697.5,398.6 698.5,397.0 699.5,393.7 700.5,394.3 701.5,395.0 702.5,392.3 703.5,390.1 704.5,392.9 705.5,395.4 706.5,397.2 707.5,401.4 708.5,403.3 709.5,406.1 710.5,402.6 711.5,402.0 712.5,402.0 713.5,397.8 714.5,395.3 715.5,399.7 716.5,404.0 717.5,403.4 718.5,408.3 719.5,411.0 720.5,413.1 721.5,412.5 722.5,409.7 723.5,410.0 724.5,413.9 725.5,415.3 726.5,417.6 727.5,417.9" fill="none" stroke="#ea7474" stroke-width="1.1" stroke-linejoin="round" opacity="0.95"/>
<rect x="667" y="416" width="6.5" height="2" fill="#111"/>
<rect x="0.5" y="380" width="27" height="13" fill="url(#gL)" stroke="#7893a5" stroke-width="1"/>
<text x="3" y="390.8" fill="#111" textLength="22">Kurs</text>
<rect x="27.5" y="380" width="213" height="13" fill="url(#gL)" stroke="#7893a5" stroke-width="1"/>
<text x="30" y="390.8" fill="#111" textLength="207">Adaptiver Gleitender Durchschnitt ( 9 2 30)</text>
<rect x="240.5" y="380" width="76" height="13" fill="url(#gL)" stroke="#7893a5" stroke-width="1"/>
<text x="243" y="390.8" fill="#fba83a" textLength="70.5">Order Anzeige</text>
<rect x="316.5" y="380" width="59" height="13" fill="url(#gL)" stroke="#7893a5" stroke-width="1"/>
<text x="319" y="390.8" fill="#e86a6a" textLength="53">TEMA ( 21)</text>
<rect x="0" y="562" width="747" height="17" fill="#c8dbfb"/>
<rect x="0" y="562" width="747" height="1" fill="#78a7f7"/>
<rect x="4.0" y="563" width="1.2" height="15.5" fill="#e2ecfe" opacity="0.8"/>
<rect x="9.0" y="563" width="1.2" height="15.5" fill="#e2ecfe" opacity="0.8"/>
<rect x="13.0" y="563" width="1.2" height="15.5" fill="#e2ecfe" opacity="0.8"/>
<rect x="18.0" y="563" width="1.2" height="15.5" fill="#e2ecfe" opacity="0.8"/>
<rect x="22.0" y="563" width="1.2" height="15.5" fill="#e2ecfe" opacity="0.8"/>
<rect x="25.0" y="563" width="1.2" height="15.5" fill="#e2ecfe" opacity="0.8"/>
<rect x="30.0" y="563" width="1.2" height="15.5" fill="#e2ecfe" opacity="0.8"/>
<rect x="34.0" y="563" width="1.2" height="15.5" fill="#e2ecfe" opacity="0.8"/>
<rect x="37.0" y="563" width="1.2" height="15.5" fill="#e2ecfe" opacity="0.8"/>
<rect x="46.0" y="563" width="1.2" height="15.5" fill="#e2ecfe" opacity="0.8"/>
<rect x="49.5" y="563" width="1.2" height="15.5" fill="#e2ecfe" opacity="0.8"/>
<rect x="54.6" y="563" width="1.2" height="15.5" fill="#e2ecfe" opacity="0.8"/>
<rect x="57.0" y="563" width="1.2" height="15.5" fill="#e2ecfe" opacity="0.8"/>
<rect x="58.8" y="563" width="1.2" height="15.5" fill="#e2ecfe" opacity="0.8"/>
<rect x="60.5" y="563" width="1.2" height="15.5" fill="#e2ecfe" opacity="0.8"/>
<rect x="62.0" y="563" width="1.2" height="15.5" fill="#e2ecfe" opacity="0.8"/>
<rect x="79.7" y="563" width="1.2" height="15.5" fill="#e2ecfe" opacity="0.8"/>
<rect x="83.0" y="563" width="1.2" height="15.5" fill="#e2ecfe" opacity="0.8"/>
<rect x="84.7" y="563" width="1.2" height="15.5" fill="#e2ecfe" opacity="0.8"/>
<rect x="88.0" y="563" width="1.2" height="15.5" fill="#e2ecfe" opacity="0.8"/>
<rect x="96.5" y="563" width="1.2" height="15.5" fill="#e2ecfe" opacity="0.8"/>
<rect x="108.0" y="563" width="1.2" height="15.5" fill="#e2ecfe" opacity="0.8"/>
<rect x="110.7" y="563" width="1.2" height="15.5" fill="#e2ecfe" opacity="0.8"/>
<rect x="112.4" y="563" width="1.2" height="15.5" fill="#e2ecfe" opacity="0.8"/>
<rect x="125.0" y="563" width="1.2" height="15.5" fill="#e2ecfe" opacity="0.8"/>
<rect x="126.6" y="563" width="1.2" height="15.5" fill="#e2ecfe" opacity="0.8"/>
<rect x="128.3" y="563" width="1.2" height="15.5" fill="#e2ecfe" opacity="0.8"/>
<rect x="130.8" y="563" width="1.2" height="15.5" fill="#e2ecfe" opacity="0.8"/>
<rect x="132.7" y="563" width="1.2" height="15.5" fill="#e2ecfe" opacity="0.8"/>
<rect x="136.0" y="563" width="1.2" height="15.5" fill="#e2ecfe" opacity="0.8"/>
<rect x="143.6" y="563" width="1.2" height="15.5" fill="#e2ecfe" opacity="0.8"/>
<rect x="147.0" y="563" width="1.2" height="15.5" fill="#e2ecfe" opacity="0.8"/>
<rect x="165.3" y="563" width="1.2" height="15.5" fill="#e2ecfe" opacity="0.8"/>
<rect x="166.2" y="563" width="1.2" height="15.5" fill="#e2ecfe" opacity="0.8"/>
<rect x="167.0" y="563" width="1.2" height="15.5" fill="#e2ecfe" opacity="0.8"/>
<rect x="168.7" y="563" width="1.2" height="15.5" fill="#e2ecfe" opacity="0.8"/>
<rect x="180.4" y="563" width="1.2" height="15.5" fill="#e2ecfe" opacity="0.8"/>
<rect x="182.0" y="563" width="1.2" height="15.5" fill="#e2ecfe" opacity="0.8"/>
<rect x="186.3" y="563" width="1.2" height="15.5" fill="#e2ecfe" opacity="0.8"/>
<rect x="198.8" y="563" width="1.2" height="15.5" fill="#e2ecfe" opacity="0.8"/>
<rect x="200.5" y="563" width="1.2" height="15.5" fill="#e2ecfe" opacity="0.8"/>
<rect x="203.0" y="563" width="1.2" height="15.5" fill="#e2ecfe" opacity="0.8"/>
<rect x="224.0" y="563" width="1.2" height="15.5" fill="#e2ecfe" opacity="0.8"/>
<rect x="237.4" y="563" width="1.2" height="15.5" fill="#e2ecfe" opacity="0.8"/>
<rect x="239.9" y="563" width="1.2" height="15.5" fill="#e2ecfe" opacity="0.8"/>
<rect x="241.5" y="563" width="1.2" height="15.5" fill="#e2ecfe" opacity="0.8"/>
<rect x="243.2" y="563" width="1.2" height="15.5" fill="#e2ecfe" opacity="0.8"/>
<rect x="246.6" y="563" width="1.2" height="15.5" fill="#e2ecfe" opacity="0.8"/>
<rect x="261.7" y="563" width="1.2" height="15.5" fill="#e2ecfe" opacity="0.8"/>
<rect x="263.5" y="563" width="1.2" height="15.5" fill="#e2ecfe" opacity="0.8"/>
<rect x="275.0" y="563" width="1.2" height="15.5" fill="#e2ecfe" opacity="0.8"/>
<rect x="277.0" y="563" width="1.2" height="15.5" fill="#e2ecfe" opacity="0.8"/>
<rect x="278.6" y="563" width="1.2" height="15.5" fill="#e2ecfe" opacity="0.8"/>
<rect x="281.0" y="563" width="1.2" height="15.5" fill="#e2ecfe" opacity="0.8"/>
<rect x="282.8" y="563" width="1.2" height="15.5" fill="#e2ecfe" opacity="0.8"/>
<rect x="286.0" y="563" width="1.2" height="15.5" fill="#e2ecfe" opacity="0.8"/>
<rect x="288.6" y="563" width="1.2" height="15.5" fill="#e2ecfe" opacity="0.8"/>
<rect x="300.4" y="563" width="1.2" height="15.5" fill="#e2ecfe" opacity="0.8"/>
<rect x="308.0" y="563" width="1.2" height="15.5" fill="#e2ecfe" opacity="0.8"/>
<rect x="323.8" y="563" width="1.2" height="15.5" fill="#e2ecfe" opacity="0.8"/>
<rect x="325.5" y="563" width="1.2" height="15.5" fill="#e2ecfe" opacity="0.8"/>
<rect x="339.0" y="563" width="1.2" height="15.5" fill="#e2ecfe" opacity="0.8"/>
<rect x="341.4" y="563" width="1.2" height="15.5" fill="#e2ecfe" opacity="0.8"/>
<rect x="344.0" y="563" width="1.2" height="15.5" fill="#e2ecfe" opacity="0.8"/>
<rect x="361.5" y="563" width="1.2" height="15.5" fill="#e2ecfe" opacity="0.8"/>
<rect x="362.5" y="563" width="1.2" height="15.5" fill="#e2ecfe" opacity="0.8"/>
<rect x="363.5" y="563" width="1.2" height="15.5" fill="#e2ecfe" opacity="0.8"/>
<rect x="365.7" y="563" width="1.2" height="15.5" fill="#e2ecfe" opacity="0.8"/>
<rect x="376.6" y="563" width="1.2" height="15.5" fill="#e2ecfe" opacity="0.8"/>
<rect x="378.3" y="563" width="1.2" height="15.5" fill="#e2ecfe" opacity="0.8"/>
<rect x="385.8" y="563" width="1.2" height="15.5" fill="#e2ecfe" opacity="0.8"/>
<rect x="391.7" y="563" width="1.2" height="15.5" fill="#e2ecfe" opacity="0.8"/>
<rect x="392.0" y="563" width="1.2" height="15.5" fill="#e2ecfe" opacity="0.8"/>
<rect x="401.0" y="563" width="1.2" height="15.5" fill="#e2ecfe" opacity="0.8"/>
<rect x="408.6" y="563" width="1.2" height="15.5" fill="#e2ecfe" opacity="0.8"/>
<rect x="411.0" y="563" width="1.2" height="15.5" fill="#e2ecfe" opacity="0.8"/>
<rect x="416.0" y="563" width="1.2" height="15.5" fill="#e2ecfe" opacity="0.8"/>
<rect x="426.0" y="563" width="1.2" height="15.5" fill="#e2ecfe" opacity="0.8"/>
<rect x="428.0" y="563" width="1.2" height="15.5" fill="#e2ecfe" opacity="0.8"/>
<rect x="429.2" y="563" width="1.2" height="15.5" fill="#e2ecfe" opacity="0.8"/>
<rect x="430.4" y="563" width="1.2" height="15.5" fill="#e2ecfe" opacity="0.8"/>
<rect x="438.7" y="563" width="1.2" height="15.5" fill="#e2ecfe" opacity="0.8"/>
<rect x="441.0" y="563" width="1.2" height="15.5" fill="#e2ecfe" opacity="0.8"/>
<rect x="444.6" y="563" width="1.2" height="15.5" fill="#e2ecfe" opacity="0.8"/>
<rect x="463.0" y="563" width="1.2" height="15.5" fill="#e2ecfe" opacity="0.8"/>
<rect x="469.7" y="563" width="1.2" height="15.5" fill="#e2ecfe" opacity="0.8"/>
<rect x="480.6" y="563" width="1.2" height="15.5" fill="#e2ecfe" opacity="0.8"/>
<rect x="490.7" y="563" width="1.2" height="15.5" fill="#e2ecfe" opacity="0.8"/>
<rect x="493.0" y="563" width="1.2" height="15.5" fill="#e2ecfe" opacity="0.8"/>
<rect x="495.7" y="563" width="1.2" height="15.5" fill="#e2ecfe" opacity="0.8"/>
<rect x="497.4" y="563" width="1.2" height="15.5" fill="#e2ecfe" opacity="0.8"/>
<rect x="503.0" y="563" width="1.2" height="15.5" fill="#e2ecfe" opacity="0.8"/>
<rect x="505.7" y="563" width="1.2" height="15.5" fill="#e2ecfe" opacity="0.8"/>
<rect x="508.0" y="563" width="1.2" height="15.5" fill="#e2ecfe" opacity="0.8"/>
<rect x="518.3" y="563" width="1.2" height="15.5" fill="#e2ecfe" opacity="0.8"/>
<rect x="519.5" y="563" width="1.2" height="15.5" fill="#e2ecfe" opacity="0.8"/>
<rect x="521.0" y="563" width="1.2" height="15.5" fill="#e2ecfe" opacity="0.8"/>
<rect x="523.0" y="563" width="1.2" height="15.5" fill="#e2ecfe" opacity="0.8"/>
<rect x="525.0" y="563" width="1.2" height="15.5" fill="#e2ecfe" opacity="0.8"/>
<rect x="527.7" y="563" width="1.2" height="15.5" fill="#e2ecfe" opacity="0.8"/>
<rect x="531.0" y="563" width="1.2" height="15.5" fill="#e2ecfe" opacity="0.8"/>
<rect x="542.0" y="563" width="1.2" height="15.5" fill="#e2ecfe" opacity="0.8"/>
<rect x="543.2" y="563" width="1.2" height="15.5" fill="#e2ecfe" opacity="0.8"/>
<rect x="544.5" y="563" width="1.2" height="15.5" fill="#e2ecfe" opacity="0.8"/>
<rect x="546.0" y="563" width="1.2" height="15.5" fill="#e2ecfe" opacity="0.8"/>
<rect x="549.5" y="563" width="1.2" height="15.5" fill="#e2ecfe" opacity="0.8"/>
<rect x="552.0" y="563" width="1.2" height="15.5" fill="#e2ecfe" opacity="0.8"/>
<rect x="560.4" y="563" width="1.2" height="15.5" fill="#e2ecfe" opacity="0.8"/>
<rect x="562.0" y="563" width="1.2" height="15.5" fill="#e2ecfe" opacity="0.8"/>
<rect x="564.5" y="563" width="1.2" height="15.5" fill="#e2ecfe" opacity="0.8"/>
<rect x="573.8" y="563" width="1.2" height="15.5" fill="#e2ecfe" opacity="0.8"/>
<rect x="579.6" y="563" width="1.2" height="15.5" fill="#e2ecfe" opacity="0.8"/>
<rect x="588.0" y="563" width="1.2" height="15.5" fill="#e2ecfe" opacity="0.8"/>
<rect x="594.7" y="563" width="1.2" height="15.5" fill="#e2ecfe" opacity="0.8"/>
<rect x="596.4" y="563" width="1.2" height="15.5" fill="#e2ecfe" opacity="0.8"/>
<rect x="598.0" y="563" width="1.2" height="15.5" fill="#e2ecfe" opacity="0.8"/>
<rect x="599.7" y="563" width="1.2" height="15.5" fill="#e2ecfe" opacity="0.8"/>
<rect x="608.0" y="563" width="1.2" height="15.5" fill="#e2ecfe" opacity="0.8"/>
<rect x="621.5" y="563" width="1.2" height="15.5" fill="#e2ecfe" opacity="0.8"/>
<rect x="645.8" y="563" width="1.2" height="15.5" fill="#e2ecfe" opacity="0.8"/>
<rect x="662.8" y="563" width="1.2" height="15.5" fill="#e2ecfe" opacity="0.8"/>
<rect x="664.5" y="563" width="1.2" height="15.5" fill="#e2ecfe" opacity="0.8"/>
<rect x="666.0" y="563" width="1.2" height="15.5" fill="#e2ecfe" opacity="0.8"/>
<rect x="668.0" y="563" width="1.2" height="15.5" fill="#e2ecfe" opacity="0.8"/>
<rect x="669.0" y="563" width="1.2" height="15.5" fill="#e2ecfe" opacity="0.8"/>
<rect x="685.4" y="563" width="1.2" height="15.5" fill="#e2ecfe" opacity="0.8"/>
<rect x="697.0" y="563" width="1.2" height="15.5" fill="#e2ecfe" opacity="0.8"/>
<rect x="732.3" y="563" width="1.2" height="15.5" fill="#e2ecfe" opacity="0.8"/>
<rect x="734.0" y="563" width="1.2" height="15.5" fill="#e2ecfe" opacity="0.8"/>
<rect x="736.5" y="563" width="1.2" height="15.5" fill="#e2ecfe" opacity="0.8"/>
<rect x="738.0" y="563" width="1.2" height="15.5" fill="#e2ecfe" opacity="0.8"/>
<rect x="739.0" y="563" width="1.2" height="15.5" fill="#e2ecfe" opacity="0.8"/>
<rect x="747.0" y="563" width="1.2" height="15.5" fill="#e2ecfe" opacity="0.8"/>
<rect x="3.0" y="563" width="1" height="15.5" fill="#6fa1f6"/>
<rect x="8.0" y="563" width="1" height="15.5" fill="#6fa1f6"/>
<rect x="12.0" y="563" width="1" height="15.5" fill="#6fa1f6"/>
<rect x="17.0" y="563" width="1" height="15.5" fill="#6fa1f6"/>
<rect x="21.0" y="563" width="1" height="15.5" fill="#6fa1f6"/>
<rect x="24.0" y="563" width="1" height="15.5" fill="#6fa1f6"/>
<rect x="29.0" y="563" width="1" height="15.5" fill="#6fa1f6"/>
<rect x="33.0" y="563" width="1" height="15.5" fill="#6fa1f6"/>
<rect x="36.0" y="563" width="1" height="15.5" fill="#6fa1f6"/>
<rect x="45.0" y="563" width="1" height="15.5" fill="#6fa1f6"/>
<rect x="48.5" y="563" width="1" height="15.5" fill="#6fa1f6"/>
<rect x="53.6" y="563" width="1" height="15.5" fill="#6fa1f6"/>
<rect x="56.0" y="563" width="1" height="15.5" fill="#6fa1f6"/>
<rect x="57.8" y="563" width="1" height="15.5" fill="#6fa1f6"/>
<rect x="59.5" y="563" width="1" height="15.5" fill="#6fa1f6"/>
<rect x="61.0" y="563" width="1" height="15.5" fill="#6fa1f6"/>
<rect x="78.7" y="563" width="1" height="15.5" fill="#6fa1f6"/>
<rect x="82.0" y="563" width="1" height="15.5" fill="#6fa1f6"/>
<rect x="83.7" y="563" width="1" height="15.5" fill="#6fa1f6"/>
<rect x="87.0" y="563" width="1" height="15.5" fill="#6fa1f6"/>
<rect x="95.5" y="563" width="1" height="15.5" fill="#6fa1f6"/>
<rect x="107.0" y="563" width="1" height="15.5" fill="#6fa1f6"/>
<rect x="109.7" y="563" width="1" height="15.5" fill="#6fa1f6"/>
<rect x="111.4" y="563" width="1" height="15.5" fill="#6fa1f6"/>
<rect x="124.0" y="563" width="1" height="15.5" fill="#6fa1f6"/>
<rect x="125.6" y="563" width="1" height="15.5" fill="#6fa1f6"/>
<rect x="127.3" y="563" width="1" height="15.5" fill="#6fa1f6"/>
<rect x="129.8" y="563" width="1" height="15.5" fill="#6fa1f6"/>
<rect x="131.7" y="563" width="1" height="15.5" fill="#6fa1f6"/>
<rect x="135.0" y="563" width="1" height="15.5" fill="#6fa1f6"/>
<rect x="142.6" y="563" width="1" height="15.5" fill="#6fa1f6"/>
<rect x="146.0" y="563" width="1" height="15.5" fill="#6fa1f6"/>
<rect x="164.3" y="563" width="1" height="15.5" fill="#6fa1f6"/>
<rect x="165.2" y="563" width="1" height="15.5" fill="#6fa1f6"/>
<rect x="166.0" y="563" width="1" height="15.5" fill="#6fa1f6"/>
<rect x="167.7" y="563" width="1" height="15.5" fill="#6fa1f6"/>
<rect x="179.4" y="563" width="1" height="15.5" fill="#6fa1f6"/>
<rect x="181.0" y="563" width="1" height="15.5" fill="#6fa1f6"/>
<rect x="185.3" y="563" width="1" height="15.5" fill="#6fa1f6"/>
<rect x="197.8" y="563" width="1" height="15.5" fill="#6fa1f6"/>
<rect x="199.5" y="563" width="1" height="15.5" fill="#6fa1f6"/>
<rect x="202.0" y="563" width="1" height="15.5" fill="#6fa1f6"/>
<rect x="223.0" y="563" width="1" height="15.5" fill="#6fa1f6"/>
<rect x="236.4" y="563" width="1" height="15.5" fill="#6fa1f6"/>
<rect x="238.9" y="563" width="1" height="15.5" fill="#6fa1f6"/>
<rect x="240.5" y="563" width="1" height="15.5" fill="#6fa1f6"/>
<rect x="242.2" y="563" width="1" height="15.5" fill="#6fa1f6"/>
<rect x="245.6" y="563" width="1" height="15.5" fill="#6fa1f6"/>
<rect x="260.7" y="563" width="1" height="15.5" fill="#6fa1f6"/>
<rect x="262.5" y="563" width="1" height="15.5" fill="#6fa1f6"/>
<rect x="274.0" y="563" width="1" height="15.5" fill="#6fa1f6"/>
<rect x="276.0" y="563" width="1" height="15.5" fill="#6fa1f6"/>
<rect x="277.6" y="563" width="1" height="15.5" fill="#6fa1f6"/>
<rect x="280.0" y="563" width="1" height="15.5" fill="#6fa1f6"/>
<rect x="281.8" y="563" width="1" height="15.5" fill="#6fa1f6"/>
<rect x="285.0" y="563" width="1" height="15.5" fill="#6fa1f6"/>
<rect x="287.6" y="563" width="1" height="15.5" fill="#6fa1f6"/>
<rect x="299.4" y="563" width="1" height="15.5" fill="#6fa1f6"/>
<rect x="307.0" y="563" width="1" height="15.5" fill="#6fa1f6"/>
<rect x="322.8" y="563" width="1" height="15.5" fill="#6fa1f6"/>
<rect x="324.5" y="563" width="1" height="15.5" fill="#6fa1f6"/>
<rect x="338.0" y="563" width="1" height="15.5" fill="#6fa1f6"/>
<rect x="340.4" y="563" width="1" height="15.5" fill="#6fa1f6"/>
<rect x="343.0" y="563" width="1" height="15.5" fill="#6fa1f6"/>
<rect x="360.5" y="563" width="1" height="15.5" fill="#6fa1f6"/>
<rect x="361.5" y="563" width="1" height="15.5" fill="#6fa1f6"/>
<rect x="362.5" y="563" width="1" height="15.5" fill="#6fa1f6"/>
<rect x="364.7" y="563" width="1" height="15.5" fill="#6fa1f6"/>
<rect x="375.6" y="563" width="1" height="15.5" fill="#6fa1f6"/>
<rect x="377.3" y="563" width="1" height="15.5" fill="#6fa1f6"/>
<rect x="384.8" y="563" width="1" height="15.5" fill="#6fa1f6"/>
<rect x="390.7" y="563" width="1" height="15.5" fill="#6fa1f6"/>
<rect x="391.0" y="563" width="1" height="15.5" fill="#6fa1f6"/>
<rect x="400.0" y="563" width="1" height="15.5" fill="#6fa1f6"/>
<rect x="407.6" y="563" width="1" height="15.5" fill="#6fa1f6"/>
<rect x="410.0" y="563" width="1" height="15.5" fill="#6fa1f6"/>
<rect x="415.0" y="563" width="1" height="15.5" fill="#6fa1f6"/>
<rect x="425.0" y="563" width="1" height="15.5" fill="#6fa1f6"/>
<rect x="427.0" y="563" width="1" height="15.5" fill="#6fa1f6"/>
<rect x="428.2" y="563" width="1" height="15.5" fill="#6fa1f6"/>
<rect x="429.4" y="563" width="1" height="15.5" fill="#6fa1f6"/>
<rect x="437.7" y="563" width="1" height="15.5" fill="#6fa1f6"/>
<rect x="440.0" y="563" width="1" height="15.5" fill="#6fa1f6"/>
<rect x="443.6" y="563" width="1" height="15.5" fill="#6fa1f6"/>
<rect x="462.0" y="563" width="1" height="15.5" fill="#6fa1f6"/>
<rect x="468.7" y="563" width="1" height="15.5" fill="#6fa1f6"/>
<rect x="479.6" y="563" width="1" height="15.5" fill="#6fa1f6"/>
<rect x="489.7" y="563" width="1" height="15.5" fill="#6fa1f6"/>
<rect x="492.0" y="563" width="1" height="15.5" fill="#6fa1f6"/>
<rect x="494.7" y="563" width="1" height="15.5" fill="#6fa1f6"/>
<rect x="496.4" y="563" width="1" height="15.5" fill="#6fa1f6"/>
<rect x="502.0" y="563" width="1" height="15.5" fill="#6fa1f6"/>
<rect x="504.7" y="563" width="1" height="15.5" fill="#6fa1f6"/>
<rect x="507.0" y="563" width="1" height="15.5" fill="#6fa1f6"/>
<rect x="517.3" y="563" width="1" height="15.5" fill="#6fa1f6"/>
<rect x="518.5" y="563" width="1" height="15.5" fill="#6fa1f6"/>
<rect x="520.0" y="563" width="1" height="15.5" fill="#6fa1f6"/>
<rect x="522.0" y="563" width="1" height="15.5" fill="#6fa1f6"/>
<rect x="524.0" y="563" width="1" height="15.5" fill="#6fa1f6"/>
<rect x="526.7" y="563" width="1" height="15.5" fill="#6fa1f6"/>
<rect x="530.0" y="563" width="1" height="15.5" fill="#6fa1f6"/>
<rect x="541.0" y="563" width="1" height="15.5" fill="#6fa1f6"/>
<rect x="542.2" y="563" width="1" height="15.5" fill="#6fa1f6"/>
<rect x="543.5" y="563" width="1" height="15.5" fill="#6fa1f6"/>
<rect x="545.0" y="563" width="1" height="15.5" fill="#6fa1f6"/>
<rect x="548.5" y="563" width="1" height="15.5" fill="#6fa1f6"/>
<rect x="551.0" y="563" width="1" height="15.5" fill="#6fa1f6"/>
<rect x="559.4" y="563" width="1" height="15.5" fill="#6fa1f6"/>
<rect x="561.0" y="563" width="1" height="15.5" fill="#6fa1f6"/>
<rect x="563.5" y="563" width="1" height="15.5" fill="#6fa1f6"/>
<rect x="572.8" y="563" width="1" height="15.5" fill="#6fa1f6"/>
<rect x="578.6" y="563" width="1" height="15.5" fill="#6fa1f6"/>
<rect x="587.0" y="563" width="1" height="15.5" fill="#6fa1f6"/>
<rect x="593.7" y="563" width="1" height="15.5" fill="#6fa1f6"/>
<rect x="595.4" y="563" width="1" height="15.5" fill="#6fa1f6"/>
<rect x="597.0" y="563" width="1" height="15.5" fill="#6fa1f6"/>
<rect x="598.7" y="563" width="1" height="15.5" fill="#6fa1f6"/>
<rect x="607.0" y="563" width="1" height="15.5" fill="#6fa1f6"/>
<rect x="620.5" y="563" width="1" height="15.5" fill="#6fa1f6"/>
<rect x="644.8" y="563" width="1" height="15.5" fill="#6fa1f6"/>
<rect x="661.8" y="563" width="1" height="15.5" fill="#6fa1f6"/>
<rect x="663.5" y="563" width="1" height="15.5" fill="#6fa1f6"/>
<rect x="665.0" y="563" width="1" height="15.5" fill="#6fa1f6"/>
<rect x="667.0" y="563" width="1" height="15.5" fill="#6fa1f6"/>
<rect x="668.0" y="563" width="1" height="15.5" fill="#6fa1f6"/>
<rect x="684.4" y="563" width="1" height="15.5" fill="#6fa1f6"/>
<rect x="696.0" y="563" width="1" height="15.5" fill="#6fa1f6"/>
<rect x="731.3" y="563" width="1" height="15.5" fill="#6fa1f6"/>
<rect x="733.0" y="563" width="1" height="15.5" fill="#6fa1f6"/>
<rect x="735.5" y="563" width="1" height="15.5" fill="#6fa1f6"/>
<rect x="737.0" y="563" width="1" height="15.5" fill="#6fa1f6"/>
<rect x="738.0" y="563" width="1" height="15.5" fill="#6fa1f6"/>
<rect x="746.0" y="563" width="1" height="15.5" fill="#6fa1f6"/>
<text x="5" y="575.5" fill="#111">46</text>
<text x="14" y="575.5" fill="#111">1</text>
<text x="28" y="575.5" fill="#111">0</text>
<text x="40" y="575.5" fill="#111">0</text>
<text x="47" y="575.5" fill="#111">1</text>
<text x="62" y="575.5" fill="#111">0,2</text>
<text x="88" y="575.5" fill="#111">0</text>
<text x="99" y="575.5" fill="#111">3</text>
<text x="113" y="575.5" fill="#111">,5</text>
<text x="136" y="575.5" fill="#111">)</text>
<text x="147" y="575.5" fill="#111">),5</text>
<text x="170" y="575.5" fill="#111">1</text>
<text x="187" y="575.5" fill="#111">,3</text>
<text x="205" y="575.5" fill="#111">4,0</text>
<text x="225" y="575.5" fill="#111">,8</text>
<text x="244" y="575.5" fill="#111">6,3</text>
<text x="265" y="575.5" fill="#111">7</text>
<text x="289" y="575.5" fill="#111">8</text>
<text x="299" y="575.5" fill="#111">2</text>
<text x="306" y="575.5" fill="#111">5,0</text>
<text x="325" y="575.5" fill="#111">,5</text>
<text x="344" y="575.5" fill="#111">5,5</text>
<text x="366" y="575.5" fill="#111">3</text>
<text x="376" y="575.5" fill="#111">3</text>
<text x="380" y="575.5" fill="#111">3</text>
<rect x="385" y="568" width="1" height="6" fill="#222"/>
<text x="392" y="575.5" fill="#111">0</text>
<text x="399" y="575.5" fill="#111">5</text>
<text x="410" y="575.5" fill="#111">5</text>
<text x="416" y="575.5" fill="#111">3</text>
<text x="429" y="575.5" fill="#111">7</text>
<text x="444" y="575.5" fill="#111">3,0</text>
<text x="462" y="575.5" fill="#111">3</text>
<text x="469" y="575.5" fill="#111">7</text>
<text x="480" y="575.5" fill="#111">5</text>
<text x="496" y="575.5" fill="#111">5</text>
<rect x="511" y="568" width="1" height="6" fill="#222"/>
<text x="531" y="575.5" fill="#111">9</text>
<text x="552" y="575.5" fill="#111">0</text>
<text x="565" y="575.5" fill="#111">3</text>
<rect x="573" y="568" width="1" height="6" fill="#222"/>
<text x="580" y="575.5" fill="#111">3</text>
<text x="586" y="575.5" fill="#111">3</text>
<rect x="594" y="568" width="1" height="6" fill="#222"/>
<text x="600" y="575.5" fill="#111">0</text>
<text x="609" y="575.5" fill="#111">,3</text>
<text x="621" y="575.5" fill="#111">95,2</text>
<text x="645" y="575.5" fill="#111">3,5</text>
<text x="669" y="575.5" fill="#111">3,9</text>
<text x="685" y="575.5" fill="#111">,5</text>
<text x="700" y="575.5" fill="#111">.686,8</text>
<text x="739" y="575.5" fill="#111">,6</text>
<text x="2" y="577" fill="#000" textLength="86">©IT-Finance.com</text>
<text x="753.5" y="392" fill="#111">13.000</text>
<line x1="747" y1="388.5" x2="751.5" y2="388.5" stroke="#6d8797" stroke-width="1"/>
<text x="753.5" y="457" fill="#111">11.000</text>
<line x1="747" y1="453.5" x2="751.5" y2="453.5" stroke="#6d8797" stroke-width="1"/>
<text x="753.5" y="522" fill="#111">9.000</text>
<line x1="747" y1="518.5" x2="751.5" y2="518.5" stroke="#6d8797" stroke-width="1"/>
<text x="753.5" y="555" fill="#111">8.000</text>
<line x1="747" y1="551.5" x2="751.5" y2="551.5" stroke="#6d8797" stroke-width="1"/>
<text x="754" y="489.5" fill="#000" font-weight="bold" font-size="12px" textLength="37">10.000</text>
<line x1="747" y1="485.5" x2="751.5" y2="485.5" stroke="#6d8797" stroke-width="1"/>
<clipPath id="c1"><rect x="752" y="400" width="46" height="8"/></clipPath><clipPath id="c2"><rect x="752" y="408" width="46" height="8.5"/></clipPath>
<rect x="752.5" y="400.5" width="44" height="12" fill="#eef3fd" stroke="#7a94a8" stroke-width="1"/>
<g clip-path="url(#c1)"><text x="755.5" y="410.5" fill="#111" textLength="40">12.191,4</text></g>
<rect x="752.5" y="408.5" width="44" height="12" fill="#eef3fd" stroke="#7a94a8" stroke-width="1"/>
<g clip-path="url(#c2)"><text x="755.5" y="418.5" fill="#e86a6a" textLength="40">12.152,1</text></g>
<rect x="752.5" y="416.5" width="44" height="14" fill="url(#gY)" stroke="#8a8a60" stroke-width="1"/>
<text x="755.5" y="428" fill="#000" textLength="40">12.123,5</text>
<rect x="747" y="414" width="5.5" height="1" fill="#222"/><rect x="747" y="416" width="5.5" height="1" fill="#d03030"/>
<rect x="0" y="579" width="800" height="19" fill="#fdfeff"/>
<rect x="0" y="578.5" width="748" height="1.2" fill="#7d98a8"/>
<line x1="38" y1="579" x2="38" y2="582.5" stroke="#6d8797" stroke-width="1"/>
<text x="38" y="595" fill="#111" text-anchor="middle">Jul</text>
<line x1="81" y1="579" x2="81" y2="582.5" stroke="#6d8797" stroke-width="1"/>
<text x="81" y="595" fill="#111" text-anchor="middle">Okt</text>
<line x1="123" y1="579" x2="123" y2="582.5" stroke="#6d8797" stroke-width="1"/>
<text x="123" y="595.5" fill="#000" font-weight="bold" text-anchor="middle" font-size="12.5px">2014</text>
<line x1="164" y1="579" x2="164" y2="582.5" stroke="#6d8797" stroke-width="1"/>
<text x="164" y="595" fill="#111" text-anchor="middle">Apr</text>
<line x1="206.5" y1="579" x2="206.5" y2="582.5" stroke="#6d8797" stroke-width="1"/>
<text x="206.5" y="595" fill="#111" text-anchor="middle">Jul</text>
<line x1="248" y1="579" x2="248" y2="582.5" stroke="#6d8797" stroke-width="1"/>
<text x="248" y="595" fill="#111" text-anchor="middle">Okt</text>
<line x1="291" y1="579" x2="291" y2="582.5" stroke="#6d8797" stroke-width="1"/>
<text x="291" y="595.5" fill="#000" font-weight="bold" text-anchor="middle" font-size="12.5px">2015</text>
<line x1="332" y1="579" x2="332" y2="582.5" stroke="#6d8797" stroke-width="1"/>
<text x="332" y="595" fill="#111" text-anchor="middle">Apr</text>
<line x1="373.5" y1="579" x2="373.5" y2="582.5" stroke="#6d8797" stroke-width="1"/>
<text x="373.5" y="595" fill="#111" text-anchor="middle">Jul</text>
<line x1="416" y1="579" x2="416" y2="582.5" stroke="#6d8797" stroke-width="1"/>
<text x="416" y="595" fill="#111" text-anchor="middle">Okt</text>
<line x1="458" y1="579" x2="458" y2="582.5" stroke="#6d8797" stroke-width="1"/>
<text x="458" y="595.5" fill="#000" font-weight="bold" text-anchor="middle" font-size="12.5px">2016</text>
<line x1="498" y1="579" x2="498" y2="582.5" stroke="#6d8797" stroke-width="1"/>
<text x="498" y="595" fill="#111" text-anchor="middle">Apr</text>
<line x1="540" y1="579" x2="540" y2="582.5" stroke="#6d8797" stroke-width="1"/>
<text x="540" y="595" fill="#111" text-anchor="middle">Jul</text>
<line x1="583" y1="579" x2="583" y2="582.5" stroke="#6d8797" stroke-width="1"/>
<text x="583" y="595" fill="#111" text-anchor="middle">Okt</text>
<line x1="624" y1="579" x2="624" y2="582.5" stroke="#6d8797" stroke-width="1"/>
<text x="624" y="595.5" fill="#000" font-weight="bold" text-anchor="middle" font-size="12.5px">2017</text>
<line x1="666" y1="579" x2="666" y2="582.5" stroke="#6d8797" stroke-width="1"/>
<text x="666" y="595" fill="#111" text-anchor="middle">Apr</text>
<line x1="707.5" y1="579" x2="707.5" y2="582.5" stroke="#6d8797" stroke-width="1"/>
<text x="707.5" y="595" fill="#111" text-anchor="middle">Jul</text>
<rect x="0" y="20" width="1" height="580" fill="#7d98a8"/>
<rect x="798.5" y="0" width="1.5" height="600" fill="#6f8d9f"/>
<rect x="0" y="598" width="800" height="2" fill="#6f8d9f"/>
</svg></body></html>
